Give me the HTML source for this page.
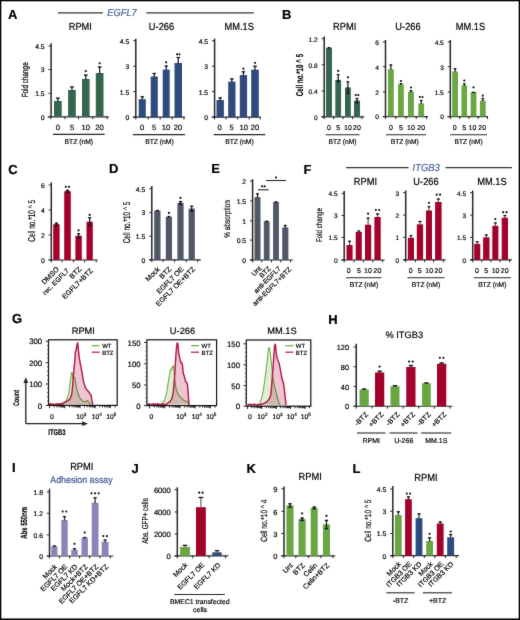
<!DOCTYPE html>
<html><head><meta charset="utf-8"><title>Figure</title>
<style>
html,body{margin:0;padding:0;background:#fff;}
body{width:520px;height:620px;overflow:hidden;font-family:"Liberation Sans", sans-serif;}
svg{display:block;position:absolute;left:0;top:0;}
text{stroke:#000;stroke-width:0.18px;text-rendering:geometricPrecision;}
</style></head><body>
<svg width="520" height="620" viewBox="0 0 520 620" font-family='"Liberation Sans", sans-serif' fill="#000">
<defs><filter id="soft" x="0" y="0" width="520" height="620" filterUnits="userSpaceOnUse" color-interpolation-filters="sRGB"><feConvolveMatrix order="3" kernelMatrix="0.25 0.5 0.25 0.5 8 0.5 0.25 0.5 0.25" divisor="11" edgeMode="duplicate"/></filter></defs>
<g filter="url(#soft)">
<rect x="0" y="0" width="520" height="620" fill="#000"/>
<rect x="1.3" y="1.3" width="517.4" height="617.2" fill="#fff"/>
<text x="8" y="19.1" font-size="13" font-weight="bold" fill="#000">A</text>
<text x="282.1" y="18.9" font-size="13" font-weight="bold" fill="#000">B</text>
<text x="8.2" y="173.5" font-size="13" font-weight="bold" fill="#000">C</text>
<text x="108.9" y="173.4" font-size="13" font-weight="bold" fill="#000">D</text>
<text x="211.2" y="173.4" font-size="13" font-weight="bold" fill="#000">E</text>
<text x="303.6" y="173.5" font-size="13" font-weight="bold" fill="#000">F</text>
<text x="12.1" y="322.7" font-size="13" font-weight="bold" fill="#000">G</text>
<text x="328.2" y="323.5" font-size="13" font-weight="bold" fill="#000">H</text>
<text x="12.1" y="472.2" font-size="13" font-weight="bold" fill="#000">I</text>
<text x="131.5" y="472.7" font-size="13" font-weight="bold" fill="#000">J</text>
<text x="246.6" y="472.7" font-size="13" font-weight="bold" fill="#000">K</text>
<text x="352.5" y="472.7" font-size="13" font-weight="bold" fill="#000">L</text>
<line x1="58" y1="12.9" x2="102.8" y2="12.9" stroke="#333" stroke-width="1.3"/>
<line x1="146.3" y1="12.9" x2="253.8" y2="12.9" stroke="#333" stroke-width="1.3"/>
<text transform="translate(107.2,16.33) scale(1,1.12)" x="0" y="0" font-size="9" text-anchor="start" font-style="italic" fill="#4a6098" style="stroke:#4a6098" textLength="29.6" lengthAdjust="spacingAndGlyphs">EGFL7</text>
<text transform="translate(80.3,29.73) scale(1,1.1)" x="0" y="0" font-size="9.3" text-anchor="middle">RPMI</text>
<line x1="51.1" y1="43.3" x2="51.1" y2="117.3" stroke="#262626" stroke-width="1.5"/>
<line x1="48.5" y1="46" x2="51.1" y2="46" stroke="#262626" stroke-width="1"/>
<text x="44.6" y="49" font-size="6.8" text-anchor="end">4.5</text>
<line x1="48.5" y1="69.5" x2="51.1" y2="69.5" stroke="#262626" stroke-width="1"/>
<text x="44.6" y="72" font-size="6.8" text-anchor="end">3</text>
<line x1="48.5" y1="93.3" x2="51.1" y2="93.3" stroke="#262626" stroke-width="1"/>
<text x="44.6" y="96" font-size="6.8" text-anchor="end">1.5</text>
<line x1="48.5" y1="116.8" x2="51.1" y2="116.8" stroke="#262626" stroke-width="1"/>
<text x="44.6" y="120" font-size="6.8" text-anchor="end">0</text>
<line x1="47.7" y1="116.8" x2="108.8" y2="116.8" stroke="#262626" stroke-width="1.2"/>
<line x1="50.8" y1="116.8" x2="50.8" y2="119.2" stroke="#262626" stroke-width="1"/>
<line x1="64.9" y1="116.8" x2="64.9" y2="119.2" stroke="#262626" stroke-width="1"/>
<line x1="78.6" y1="116.8" x2="78.6" y2="119.2" stroke="#262626" stroke-width="1"/>
<line x1="92.8" y1="116.8" x2="92.8" y2="119.2" stroke="#262626" stroke-width="1"/>
<line x1="107.2" y1="116.8" x2="107.2" y2="119.2" stroke="#262626" stroke-width="1"/>
<rect x="54" y="101" width="7.7" height="15.8" fill="#36654f"/>
<line x1="57.85" y1="101.5" x2="57.85" y2="97.7" stroke="#111" stroke-width="1.2"/>
<line x1="56" y1="98.2" x2="59.7" y2="98.2" stroke="#111" stroke-width="1.3"/>
<rect x="68.1" y="90" width="7.7" height="26.8" fill="#36654f"/>
<line x1="71.95" y1="90.5" x2="71.95" y2="86.5" stroke="#111" stroke-width="1.2"/>
<line x1="70.1" y1="87" x2="73.8" y2="87" stroke="#111" stroke-width="1.3"/>
<rect x="82" y="79" width="7.6" height="37.8" fill="#36654f"/>
<line x1="85.8" y1="79.5" x2="85.8" y2="74.6" stroke="#111" stroke-width="1.2"/>
<line x1="83.98" y1="75.1" x2="87.62" y2="75.1" stroke="#111" stroke-width="1.3"/>
<circle cx="85.8" cy="71.1" r="1.1" fill="#111"/>
<rect x="95.8" y="73" width="7.7" height="43.8" fill="#36654f"/>
<line x1="99.65" y1="73.5" x2="99.65" y2="66.5" stroke="#111" stroke-width="1.2"/>
<line x1="97.8" y1="67" x2="101.5" y2="67" stroke="#111" stroke-width="1.3"/>
<circle cx="99.65" cy="63.3" r="1.1" fill="#111"/>
<text x="57.9" y="130" font-size="7.6" text-anchor="middle">0</text>
<text x="72" y="130" font-size="7.6" text-anchor="middle">5</text>
<text x="85.8" y="130" font-size="7.6" text-anchor="middle">10</text>
<text x="99.6" y="130" font-size="7.6" text-anchor="middle">20</text>
<line x1="53" y1="134.4" x2="104.6" y2="134.4" stroke="#262626" stroke-width="1.1"/>
<text x="78.8" y="144" font-size="7" text-anchor="middle" textLength="28.5" lengthAdjust="spacingAndGlyphs">BTZ (nM)</text>
<text transform="translate(28.02,79.8) rotate(-90)" x="0" y="0" font-size="8.82" font-weight="normal" style="stroke-width:0.25px" text-anchor="middle" textLength="35" lengthAdjust="spacingAndGlyphs">Fold change</text>
<text transform="translate(161.5,30.33) scale(1,1.1)" x="0" y="0" font-size="9.3" text-anchor="middle">U-266</text>
<line x1="135.8" y1="38.7" x2="135.8" y2="117.7" stroke="#262626" stroke-width="1.5"/>
<line x1="133.2" y1="40.7" x2="135.8" y2="40.7" stroke="#262626" stroke-width="1"/>
<text x="129.3" y="44" font-size="6.8" text-anchor="end">4.5</text>
<line x1="133.2" y1="66.2" x2="135.8" y2="66.2" stroke="#262626" stroke-width="1"/>
<text x="129.3" y="69" font-size="6.8" text-anchor="end">3</text>
<line x1="133.2" y1="91.6" x2="135.8" y2="91.6" stroke="#262626" stroke-width="1"/>
<text x="129.3" y="95" font-size="6.8" text-anchor="end">1.5</text>
<line x1="133.2" y1="117.2" x2="135.8" y2="117.2" stroke="#262626" stroke-width="1"/>
<text x="129.3" y="120" font-size="6.8" text-anchor="end">0</text>
<line x1="133" y1="117.2" x2="185" y2="117.2" stroke="#262626" stroke-width="1.2"/>
<line x1="135.8" y1="117.2" x2="135.8" y2="119.6" stroke="#262626" stroke-width="1"/>
<line x1="148.2" y1="117.2" x2="148.2" y2="119.6" stroke="#262626" stroke-width="1"/>
<line x1="160.2" y1="117.2" x2="160.2" y2="119.6" stroke="#262626" stroke-width="1"/>
<line x1="172.2" y1="117.2" x2="172.2" y2="119.6" stroke="#262626" stroke-width="1"/>
<line x1="184" y1="117.2" x2="184" y2="119.6" stroke="#262626" stroke-width="1"/>
<rect x="138.7" y="99.2" width="7.1" height="18" fill="#2f4a7c"/>
<line x1="142.25" y1="99.7" x2="142.25" y2="96.3" stroke="#111" stroke-width="1.2"/>
<line x1="140.55" y1="96.8" x2="143.95" y2="96.8" stroke="#111" stroke-width="1.3"/>
<rect x="150.7" y="76.5" width="7.1" height="40.7" fill="#2f4a7c"/>
<line x1="154.25" y1="77" x2="154.25" y2="73" stroke="#111" stroke-width="1.2"/>
<line x1="152.55" y1="73.5" x2="155.95" y2="73.5" stroke="#111" stroke-width="1.3"/>
<rect x="162.7" y="69.7" width="7" height="47.5" fill="#2f4a7c"/>
<line x1="166.2" y1="70.2" x2="166.2" y2="65.5" stroke="#111" stroke-width="1.2"/>
<line x1="164.52" y1="66" x2="167.88" y2="66" stroke="#111" stroke-width="1.3"/>
<circle cx="166.2" cy="62.3" r="1.1" fill="#111"/>
<rect x="174.5" y="63" width="7.5" height="54.2" fill="#2f4a7c"/>
<line x1="178.25" y1="63.5" x2="178.25" y2="57" stroke="#111" stroke-width="1.2"/>
<line x1="176.45" y1="57.5" x2="180.05" y2="57.5" stroke="#111" stroke-width="1.3"/>
<circle cx="177.05" cy="54.3" r="1.1" fill="#111"/>
<circle cx="179.45" cy="54.3" r="1.1" fill="#111"/>
<text x="142" y="130" font-size="7.6" text-anchor="middle">0</text>
<text x="154" y="130" font-size="7.6" text-anchor="middle">5</text>
<text x="166" y="130" font-size="7.6" text-anchor="middle">10</text>
<text x="178" y="130" font-size="7.6" text-anchor="middle">20</text>
<line x1="133" y1="134.6" x2="185" y2="134.6" stroke="#262626" stroke-width="1.1"/>
<text x="159.4" y="144" font-size="7" text-anchor="middle" textLength="28.5" lengthAdjust="spacingAndGlyphs">BTZ (nM)</text>
<text transform="translate(239.2,30.33) scale(1,1.1)" x="0" y="0" font-size="9.3" text-anchor="middle">MM.1S</text>
<line x1="214.6" y1="38.7" x2="214.6" y2="117.7" stroke="#262626" stroke-width="1.5"/>
<line x1="212" y1="40.7" x2="214.6" y2="40.7" stroke="#262626" stroke-width="1"/>
<text x="208.1" y="44" font-size="6.8" text-anchor="end">4.5</text>
<line x1="212" y1="66.2" x2="214.6" y2="66.2" stroke="#262626" stroke-width="1"/>
<text x="208.1" y="69" font-size="6.8" text-anchor="end">3</text>
<line x1="212" y1="91.6" x2="214.6" y2="91.6" stroke="#262626" stroke-width="1"/>
<text x="208.1" y="95" font-size="6.8" text-anchor="end">1.5</text>
<line x1="212" y1="117.2" x2="214.6" y2="117.2" stroke="#262626" stroke-width="1"/>
<text x="208.1" y="120" font-size="6.8" text-anchor="end">0</text>
<line x1="211.8" y1="117.2" x2="260.7" y2="117.2" stroke="#262626" stroke-width="1.2"/>
<line x1="214.6" y1="117.2" x2="214.6" y2="119.6" stroke="#262626" stroke-width="1"/>
<line x1="226" y1="117.2" x2="226" y2="119.6" stroke="#262626" stroke-width="1"/>
<line x1="237.6" y1="117.2" x2="237.6" y2="119.6" stroke="#262626" stroke-width="1"/>
<line x1="249.2" y1="117.2" x2="249.2" y2="119.6" stroke="#262626" stroke-width="1"/>
<line x1="260.2" y1="117.2" x2="260.2" y2="119.6" stroke="#262626" stroke-width="1"/>
<rect x="216.5" y="100.1" width="7.4" height="17.1" fill="#2f4a7c"/>
<line x1="220.2" y1="100.6" x2="220.2" y2="97.4" stroke="#111" stroke-width="1.2"/>
<line x1="218.42" y1="97.9" x2="221.98" y2="97.9" stroke="#111" stroke-width="1.3"/>
<rect x="228.2" y="81.7" width="7.3" height="35.5" fill="#2f4a7c"/>
<line x1="231.85" y1="82.2" x2="231.85" y2="78.4" stroke="#111" stroke-width="1.2"/>
<line x1="230.1" y1="78.9" x2="233.6" y2="78.9" stroke="#111" stroke-width="1.3"/>
<rect x="239.8" y="75.1" width="7.3" height="42.1" fill="#2f4a7c"/>
<line x1="243.45" y1="75.6" x2="243.45" y2="71.3" stroke="#111" stroke-width="1.2"/>
<line x1="241.7" y1="71.8" x2="245.2" y2="71.8" stroke="#111" stroke-width="1.3"/>
<circle cx="243.45" cy="68.7" r="1.1" fill="#111"/>
<rect x="251.2" y="69.7" width="7.6" height="47.5" fill="#2f4a7c"/>
<line x1="255" y1="70.2" x2="255" y2="65.8" stroke="#111" stroke-width="1.2"/>
<line x1="253.18" y1="66.3" x2="256.82" y2="66.3" stroke="#111" stroke-width="1.3"/>
<circle cx="255" cy="62.8" r="1.1" fill="#111"/>
<text x="219.6" y="130" font-size="7.6" text-anchor="middle">0</text>
<text x="231.6" y="130" font-size="7.6" text-anchor="middle">5</text>
<text x="243.7" y="130" font-size="7.6" text-anchor="middle">10</text>
<text x="255" y="130" font-size="7.6" text-anchor="middle">20</text>
<line x1="213.6" y1="134.6" x2="265.2" y2="134.6" stroke="#262626" stroke-width="1.1"/>
<text x="239.4" y="144" font-size="7" text-anchor="middle" textLength="28.5" lengthAdjust="spacingAndGlyphs">BTZ (nM)</text>
<text transform="translate(344.7,29.73) scale(1,1.1)" x="0" y="0" font-size="9.3" text-anchor="middle">RPMI</text>
<line x1="324.2" y1="36.5" x2="324.2" y2="117.3" stroke="#262626" stroke-width="1.5"/>
<line x1="321.6" y1="38.7" x2="324.2" y2="38.7" stroke="#262626" stroke-width="1"/>
<text x="317.7" y="42" font-size="6.6" text-anchor="end">1.2</text>
<line x1="321.6" y1="64.8" x2="324.2" y2="64.8" stroke="#262626" stroke-width="1"/>
<text x="317.7" y="68" font-size="6.6" text-anchor="end">0.8</text>
<line x1="321.6" y1="91" x2="324.2" y2="91" stroke="#262626" stroke-width="1"/>
<text x="317.7" y="94" font-size="6.6" text-anchor="end">0.4</text>
<line x1="321.6" y1="116.8" x2="324.2" y2="116.8" stroke="#262626" stroke-width="1"/>
<text x="317.7" y="120" font-size="6.6" text-anchor="end">0</text>
<line x1="321.5" y1="116.8" x2="364.3" y2="116.8" stroke="#262626" stroke-width="1.2"/>
<line x1="324.2" y1="116.8" x2="324.2" y2="119.2" stroke="#262626" stroke-width="1"/>
<line x1="333.7" y1="116.8" x2="333.7" y2="119.2" stroke="#262626" stroke-width="1"/>
<line x1="343.1" y1="116.8" x2="343.1" y2="119.2" stroke="#262626" stroke-width="1"/>
<line x1="352.6" y1="116.8" x2="352.6" y2="119.2" stroke="#262626" stroke-width="1"/>
<line x1="361.8" y1="116.8" x2="361.8" y2="119.2" stroke="#262626" stroke-width="1"/>
<rect x="326" y="47.8" width="6" height="69" fill="#36654f"/>
<line x1="329" y1="48.3" x2="329" y2="47.2" stroke="#111" stroke-width="1.2"/>
<line x1="327.56" y1="47.7" x2="330.44" y2="47.7" stroke="#111" stroke-width="1.3"/>
<rect x="335.3" y="79.9" width="5.8" height="36.9" fill="#36654f"/>
<line x1="338.2" y1="80.4" x2="338.2" y2="74.1" stroke="#111" stroke-width="1.2"/>
<line x1="336.81" y1="74.6" x2="339.59" y2="74.6" stroke="#111" stroke-width="1.3"/>
<line x1="338.2" y1="79.9" x2="338.2" y2="81.8" stroke="#111" stroke-width="1.2"/>
<line x1="336.81" y1="81.5" x2="339.59" y2="81.5" stroke="#111" stroke-width="1.3"/>
<circle cx="338.2" cy="70.9" r="1.1" fill="#111"/>
<rect x="345" y="87.5" width="5.8" height="29.3" fill="#36654f"/>
<line x1="347.9" y1="88" x2="347.9" y2="81.3" stroke="#111" stroke-width="1.2"/>
<line x1="346.51" y1="81.8" x2="349.29" y2="81.8" stroke="#111" stroke-width="1.3"/>
<line x1="347.9" y1="87.5" x2="347.9" y2="93.7" stroke="#111" stroke-width="1.2"/>
<line x1="346.51" y1="93.4" x2="349.29" y2="93.4" stroke="#111" stroke-width="1.3"/>
<circle cx="347.9" cy="77.3" r="1.1" fill="#111"/>
<rect x="354" y="100.6" width="6" height="16.2" fill="#36654f"/>
<line x1="357" y1="101.1" x2="357" y2="98" stroke="#111" stroke-width="1.2"/>
<line x1="355.56" y1="98.5" x2="358.44" y2="98.5" stroke="#111" stroke-width="1.3"/>
<line x1="357" y1="100.6" x2="357" y2="103.2" stroke="#111" stroke-width="1.2"/>
<line x1="355.56" y1="102.9" x2="358.44" y2="102.9" stroke="#111" stroke-width="1.3"/>
<circle cx="355.7" cy="95.1" r="1.1" fill="#111"/>
<circle cx="358.3" cy="95.1" r="1.1" fill="#111"/>
<text x="328.9" y="130" font-size="7" text-anchor="middle">0</text>
<text x="338.2" y="130" font-size="7" text-anchor="middle">5</text>
<text x="347.9" y="130" font-size="7" text-anchor="middle" textLength="7.8" lengthAdjust="spacingAndGlyphs">10</text>
<text x="357" y="130" font-size="7" text-anchor="middle" textLength="7.8" lengthAdjust="spacingAndGlyphs">20</text>
<line x1="325.6" y1="134.8" x2="359.5" y2="134.8" stroke="#262626" stroke-width="1.1"/>
<text x="342.5" y="144" font-size="7" text-anchor="middle" textLength="28" lengthAdjust="spacingAndGlyphs">BTZ (nM)</text>
<text transform="translate(302.5,75.1) rotate(-90)" x="0" y="0" font-size="9.87" font-weight="600" text-anchor="middle" textLength="42.4" lengthAdjust="spacingAndGlyphs">Cell no.*10 ^ 5</text>
<text transform="translate(408,29.83) scale(1,1.1)" x="0" y="0" font-size="9.3" text-anchor="middle">U-266</text>
<line x1="385.5" y1="40" x2="385.5" y2="117.1" stroke="#262626" stroke-width="1.5"/>
<line x1="382.9" y1="42" x2="385.5" y2="42" stroke="#262626" stroke-width="1"/>
<text x="379" y="45" font-size="6.6" text-anchor="end">6</text>
<line x1="382.9" y1="66.7" x2="385.5" y2="66.7" stroke="#262626" stroke-width="1"/>
<text x="379" y="70" font-size="6.6" text-anchor="end">4</text>
<line x1="382.9" y1="91.9" x2="385.5" y2="91.9" stroke="#262626" stroke-width="1"/>
<text x="379" y="95" font-size="6.6" text-anchor="end">2</text>
<line x1="382.9" y1="116.6" x2="385.5" y2="116.6" stroke="#262626" stroke-width="1"/>
<text x="379" y="119" font-size="6.6" text-anchor="end">0</text>
<line x1="382.8" y1="116.6" x2="428" y2="116.6" stroke="#262626" stroke-width="1.2"/>
<line x1="385.5" y1="116.6" x2="385.5" y2="119" stroke="#262626" stroke-width="1"/>
<line x1="395.8" y1="116.6" x2="395.8" y2="119" stroke="#262626" stroke-width="1"/>
<line x1="406" y1="116.6" x2="406" y2="119" stroke="#262626" stroke-width="1"/>
<line x1="416.2" y1="116.6" x2="416.2" y2="119" stroke="#262626" stroke-width="1"/>
<line x1="426.5" y1="116.6" x2="426.5" y2="119" stroke="#262626" stroke-width="1"/>
<rect x="388" y="69.3" width="5.8" height="47.3" fill="#6aa644"/>
<line x1="390.9" y1="69.8" x2="390.9" y2="64.4" stroke="#111" stroke-width="1.2"/>
<line x1="389.51" y1="64.9" x2="392.29" y2="64.9" stroke="#111" stroke-width="1.3"/>
<rect x="398" y="84.5" width="5.8" height="32.1" fill="#6aa644"/>
<line x1="400.9" y1="85" x2="400.9" y2="83.2" stroke="#111" stroke-width="1.2"/>
<line x1="399.51" y1="83.7" x2="402.29" y2="83.7" stroke="#111" stroke-width="1.3"/>
<circle cx="400.9" cy="81" r="1.1" fill="#111"/>
<rect x="408" y="91.9" width="5.9" height="24.7" fill="#6aa644"/>
<line x1="410.95" y1="92.4" x2="410.95" y2="90.3" stroke="#111" stroke-width="1.2"/>
<line x1="409.53" y1="90.8" x2="412.37" y2="90.8" stroke="#111" stroke-width="1.3"/>
<circle cx="410.95" cy="87.5" r="1.1" fill="#111"/>
<rect x="418.3" y="103.5" width="5.8" height="13.1" fill="#6aa644"/>
<line x1="421.2" y1="104" x2="421.2" y2="100" stroke="#111" stroke-width="1.2"/>
<line x1="419.81" y1="100.5" x2="422.59" y2="100.5" stroke="#111" stroke-width="1.3"/>
<circle cx="419.9" cy="97" r="1.1" fill="#111"/>
<circle cx="422.5" cy="97" r="1.1" fill="#111"/>
<text x="390.9" y="130" font-size="7" text-anchor="middle">0</text>
<text x="401" y="130" font-size="7" text-anchor="middle">5</text>
<text x="411" y="130" font-size="7" text-anchor="middle">10</text>
<text x="421.2" y="130" font-size="7" text-anchor="middle">20</text>
<line x1="385.9" y1="134.8" x2="426" y2="134.8" stroke="#262626" stroke-width="1.1"/>
<text x="404.8" y="144" font-size="7" text-anchor="middle" textLength="28" lengthAdjust="spacingAndGlyphs">BTZ (nM)</text>
<text transform="translate(470.4,29.83) scale(1,1.1)" x="0" y="0" font-size="9.3" text-anchor="middle">MM.1S</text>
<line x1="450.3" y1="40" x2="450.3" y2="117.1" stroke="#262626" stroke-width="1.5"/>
<line x1="447.7" y1="42" x2="450.3" y2="42" stroke="#262626" stroke-width="1"/>
<text x="443.8" y="45" font-size="6.6" text-anchor="end">4.5</text>
<line x1="447.7" y1="66.7" x2="450.3" y2="66.7" stroke="#262626" stroke-width="1"/>
<text x="443.8" y="70" font-size="6.6" text-anchor="end">3</text>
<line x1="447.7" y1="91.9" x2="450.3" y2="91.9" stroke="#262626" stroke-width="1"/>
<text x="443.8" y="95" font-size="6.6" text-anchor="end">1.5</text>
<line x1="447.7" y1="116.6" x2="450.3" y2="116.6" stroke="#262626" stroke-width="1"/>
<text x="443.8" y="119" font-size="6.6" text-anchor="end">0</text>
<line x1="447.6" y1="116.6" x2="488" y2="116.6" stroke="#262626" stroke-width="1.2"/>
<line x1="450.3" y1="116.6" x2="450.3" y2="119" stroke="#262626" stroke-width="1"/>
<line x1="459.8" y1="116.6" x2="459.8" y2="119" stroke="#262626" stroke-width="1"/>
<line x1="469" y1="116.6" x2="469" y2="119" stroke="#262626" stroke-width="1"/>
<line x1="478.2" y1="116.6" x2="478.2" y2="119" stroke="#262626" stroke-width="1"/>
<line x1="487.5" y1="116.6" x2="487.5" y2="119" stroke="#262626" stroke-width="1"/>
<rect x="452.2" y="71.6" width="5.8" height="45" fill="#6aa644"/>
<line x1="455.1" y1="72.1" x2="455.1" y2="68.3" stroke="#111" stroke-width="1.2"/>
<line x1="453.71" y1="68.8" x2="456.49" y2="68.8" stroke="#111" stroke-width="1.3"/>
<rect x="461.5" y="85.5" width="5.6" height="31.1" fill="#6aa644"/>
<line x1="464.3" y1="86" x2="464.3" y2="83.4" stroke="#111" stroke-width="1.2"/>
<line x1="462.96" y1="83.9" x2="465.64" y2="83.9" stroke="#111" stroke-width="1.3"/>
<circle cx="464.3" cy="80.6" r="1.1" fill="#111"/>
<rect x="470.6" y="91.9" width="5.8" height="24.7" fill="#6aa644"/>
<line x1="472.11" y1="92.4" x2="474.89" y2="92.4" stroke="#111" stroke-width="1.3"/>
<circle cx="473.5" cy="87.3" r="1.1" fill="#111"/>
<rect x="479.9" y="100.6" width="5.8" height="16" fill="#6aa644"/>
<line x1="482.8" y1="101.1" x2="482.8" y2="98" stroke="#111" stroke-width="1.2"/>
<line x1="481.41" y1="98.5" x2="484.19" y2="98.5" stroke="#111" stroke-width="1.3"/>
<circle cx="482.8" cy="95.7" r="1.1" fill="#111"/>
<text x="454.8" y="130" font-size="7" text-anchor="middle">0</text>
<text x="464.2" y="130" font-size="7" text-anchor="middle">5</text>
<text x="472.5" y="130" font-size="7" text-anchor="middle" textLength="7.8" lengthAdjust="spacingAndGlyphs">10</text>
<text x="482.2" y="130" font-size="7" text-anchor="middle" textLength="7.8" lengthAdjust="spacingAndGlyphs">20</text>
<line x1="450.3" y1="134.8" x2="487" y2="134.8" stroke="#262626" stroke-width="1.1"/>
<text x="468.6" y="144" font-size="7" text-anchor="middle" textLength="28" lengthAdjust="spacingAndGlyphs">BTZ (nM)</text>
<line x1="51.3" y1="182.5" x2="51.3" y2="260.5" stroke="#262626" stroke-width="1.5"/>
<line x1="48.7" y1="185" x2="51.3" y2="185" stroke="#262626" stroke-width="1"/>
<text x="44.8" y="188" font-size="6.8" text-anchor="end">6</text>
<line x1="48.7" y1="210.1" x2="51.3" y2="210.1" stroke="#262626" stroke-width="1"/>
<text x="44.8" y="213" font-size="6.8" text-anchor="end">4</text>
<line x1="48.7" y1="234.9" x2="51.3" y2="234.9" stroke="#262626" stroke-width="1"/>
<text x="44.8" y="238" font-size="6.8" text-anchor="end">2</text>
<line x1="48.7" y1="260" x2="51.3" y2="260" stroke="#262626" stroke-width="1"/>
<text x="44.8" y="263" font-size="6.8" text-anchor="end">0</text>
<line x1="48.6" y1="260" x2="97.7" y2="260" stroke="#262626" stroke-width="1.2"/>
<line x1="51.3" y1="260" x2="51.3" y2="262.4" stroke="#262626" stroke-width="1"/>
<line x1="62" y1="260" x2="62" y2="262.4" stroke="#262626" stroke-width="1"/>
<line x1="73.4" y1="260" x2="73.4" y2="262.4" stroke="#262626" stroke-width="1"/>
<line x1="84.6" y1="260" x2="84.6" y2="262.4" stroke="#262626" stroke-width="1"/>
<line x1="96.2" y1="260" x2="96.2" y2="262.4" stroke="#262626" stroke-width="1"/>
<rect x="53.2" y="224.2" width="6.4" height="35.8" fill="#a3002b"/>
<line x1="56.4" y1="224.7" x2="56.4" y2="222.7" stroke="#111" stroke-width="1.2"/>
<line x1="54.86" y1="223.2" x2="57.94" y2="223.2" stroke="#111" stroke-width="1.3"/>
<line x1="56.4" y1="224.2" x2="56.4" y2="225.7" stroke="#111" stroke-width="1.2"/>
<line x1="54.86" y1="225.4" x2="57.94" y2="225.4" stroke="#111" stroke-width="1.3"/>
<rect x="64.2" y="191.2" width="6.6" height="68.8" fill="#a3002b"/>
<line x1="67.5" y1="191.7" x2="67.5" y2="189.8" stroke="#111" stroke-width="1.2"/>
<line x1="65.92" y1="190.3" x2="69.08" y2="190.3" stroke="#111" stroke-width="1.3"/>
<line x1="67.5" y1="191.2" x2="67.5" y2="192.6" stroke="#111" stroke-width="1.2"/>
<line x1="65.92" y1="192.3" x2="69.08" y2="192.3" stroke="#111" stroke-width="1.3"/>
<circle cx="65.9" cy="186.8" r="1.1" fill="#111"/>
<circle cx="69.1" cy="186.8" r="1.1" fill="#111"/>
<rect x="75.4" y="235.8" width="6.4" height="24.2" fill="#a3002b"/>
<line x1="78.6" y1="236.3" x2="78.6" y2="233.3" stroke="#111" stroke-width="1.2"/>
<line x1="77.06" y1="233.8" x2="80.14" y2="233.8" stroke="#111" stroke-width="1.3"/>
<line x1="78.6" y1="235.8" x2="78.6" y2="238.3" stroke="#111" stroke-width="1.2"/>
<line x1="77.06" y1="238" x2="80.14" y2="238" stroke="#111" stroke-width="1.3"/>
<circle cx="78.6" cy="230.3" r="1.1" fill="#111"/>
<rect x="86.5" y="221.7" width="6.3" height="38.3" fill="#a3002b"/>
<line x1="89.65" y1="222.2" x2="89.65" y2="217.3" stroke="#111" stroke-width="1.2"/>
<line x1="88.14" y1="217.8" x2="91.16" y2="217.8" stroke="#111" stroke-width="1.3"/>
<line x1="89.65" y1="221.7" x2="89.65" y2="226.1" stroke="#111" stroke-width="1.2"/>
<line x1="88.14" y1="225.8" x2="91.16" y2="225.8" stroke="#111" stroke-width="1.3"/>
<circle cx="89.65" cy="214.9" r="1.1" fill="#111"/>
<text transform="translate(34.6,220.8) rotate(-90)" x="0" y="0" font-size="9.87" font-weight="normal" text-anchor="middle" textLength="41.7" lengthAdjust="spacingAndGlyphs">Cell no.*10 ^ 5</text>
<text transform="translate(59.5,269.7) rotate(-45)" x="0" y="0" font-size="7.1" text-anchor="end">DMSO</text>
<text transform="translate(69.5,271.2) rotate(-45)" x="0" y="0" font-size="6.7" text-anchor="end">rec. EGFL7</text>
<text transform="translate(81.8,269.7) rotate(-45)" x="0" y="0" font-size="7.1" text-anchor="end">BTZ</text>
<text transform="translate(93.3,271.2) rotate(-45)" x="0" y="0" font-size="7.1" text-anchor="end">EGFL7+BTZ</text>
<line x1="151.8" y1="186" x2="151.8" y2="260.3" stroke="#262626" stroke-width="1.5"/>
<line x1="149.2" y1="188.8" x2="151.8" y2="188.8" stroke="#262626" stroke-width="1"/>
<text x="145.3" y="192" font-size="6.8" text-anchor="end">4.5</text>
<line x1="149.2" y1="212.4" x2="151.8" y2="212.4" stroke="#262626" stroke-width="1"/>
<text x="145.3" y="215" font-size="6.8" text-anchor="end">3</text>
<line x1="149.2" y1="236.2" x2="151.8" y2="236.2" stroke="#262626" stroke-width="1"/>
<text x="145.3" y="239" font-size="6.8" text-anchor="end">1.5</text>
<line x1="149.2" y1="259.8" x2="151.8" y2="259.8" stroke="#262626" stroke-width="1"/>
<text x="145.3" y="263" font-size="6.8" text-anchor="end">0</text>
<line x1="149.1" y1="259.8" x2="200.8" y2="259.8" stroke="#262626" stroke-width="1.2"/>
<line x1="151.8" y1="259.8" x2="151.8" y2="262.2" stroke="#262626" stroke-width="1"/>
<line x1="163" y1="259.8" x2="163" y2="262.2" stroke="#262626" stroke-width="1"/>
<line x1="174.6" y1="259.8" x2="174.6" y2="262.2" stroke="#262626" stroke-width="1"/>
<line x1="186.2" y1="259.8" x2="186.2" y2="262.2" stroke="#262626" stroke-width="1"/>
<line x1="197.7" y1="259.8" x2="197.7" y2="262.2" stroke="#262626" stroke-width="1"/>
<rect x="154.2" y="210.7" width="6.3" height="49.1" fill="#505767"/>
<line x1="157.35" y1="211.2" x2="157.35" y2="210" stroke="#111" stroke-width="1.2"/>
<line x1="155.84" y1="210.5" x2="158.86" y2="210.5" stroke="#111" stroke-width="1.3"/>
<rect x="165.8" y="216.9" width="6.2" height="42.9" fill="#505767"/>
<line x1="168.9" y1="217.4" x2="168.9" y2="216" stroke="#111" stroke-width="1.2"/>
<line x1="167.41" y1="216.5" x2="170.39" y2="216.5" stroke="#111" stroke-width="1.3"/>
<circle cx="168.9" cy="212.9" r="1.1" fill="#111"/>
<rect x="177.4" y="202.8" width="6.2" height="57" fill="#505767"/>
<line x1="180.5" y1="203.3" x2="180.5" y2="201" stroke="#111" stroke-width="1.2"/>
<line x1="179.01" y1="201.5" x2="181.99" y2="201.5" stroke="#111" stroke-width="1.3"/>
<line x1="180.5" y1="202.8" x2="180.5" y2="204.6" stroke="#111" stroke-width="1.2"/>
<line x1="179.01" y1="204.3" x2="181.99" y2="204.3" stroke="#111" stroke-width="1.3"/>
<circle cx="180.5" cy="197.9" r="1.1" fill="#111"/>
<rect x="188.6" y="208.6" width="6.2" height="51.2" fill="#505767"/>
<line x1="191.7" y1="209.1" x2="191.7" y2="205.7" stroke="#111" stroke-width="1.2"/>
<line x1="190.21" y1="206.2" x2="193.19" y2="206.2" stroke="#111" stroke-width="1.3"/>
<line x1="191.7" y1="208.6" x2="191.7" y2="211.5" stroke="#111" stroke-width="1.2"/>
<line x1="190.21" y1="211.2" x2="193.19" y2="211.2" stroke="#111" stroke-width="1.3"/>
<text transform="translate(129.6,222.5) rotate(-90)" x="0" y="0" font-size="9.87" font-weight="normal" text-anchor="middle" textLength="41.7" lengthAdjust="spacingAndGlyphs">Cell no.*10 ^ 5</text>
<text transform="translate(160.2,269.7) rotate(-45)" x="0" y="0" font-size="7.1" text-anchor="end">Mock</text>
<text transform="translate(171.8,269.7) rotate(-45)" x="0" y="0" font-size="7.1" text-anchor="end">BTZ</text>
<text transform="translate(184,269.7) rotate(-45)" x="0" y="0" font-size="7.1" text-anchor="end">EGFL7 OE</text>
<text transform="translate(195.6,269.7) rotate(-45)" x="0" y="0" font-size="7.1" text-anchor="end">EGFL7 OE+BTZ</text>
<line x1="252.6" y1="179.2" x2="252.6" y2="260.5" stroke="#262626" stroke-width="1.5"/>
<line x1="250" y1="181.1" x2="252.6" y2="181.1" stroke="#262626" stroke-width="1"/>
<text x="246.1" y="184" font-size="6.8" text-anchor="end">2</text>
<line x1="250" y1="201" x2="252.6" y2="201" stroke="#262626" stroke-width="1"/>
<text x="246.1" y="204" font-size="6.8" text-anchor="end">1.5</text>
<line x1="250" y1="220.8" x2="252.6" y2="220.8" stroke="#262626" stroke-width="1"/>
<text x="246.1" y="224" font-size="6.8" text-anchor="end">1</text>
<line x1="250" y1="240.1" x2="252.6" y2="240.1" stroke="#262626" stroke-width="1"/>
<text x="246.1" y="243" font-size="6.8" text-anchor="end">0.5</text>
<line x1="250" y1="260" x2="252.6" y2="260" stroke="#262626" stroke-width="1"/>
<text x="246.1" y="263" font-size="6.8" text-anchor="end">0</text>
<line x1="249.9" y1="260" x2="292.8" y2="260" stroke="#262626" stroke-width="1.2"/>
<line x1="252.6" y1="260" x2="252.6" y2="262.4" stroke="#262626" stroke-width="1"/>
<line x1="261.8" y1="260" x2="261.8" y2="262.4" stroke="#262626" stroke-width="1"/>
<line x1="271.5" y1="260" x2="271.5" y2="262.4" stroke="#262626" stroke-width="1"/>
<line x1="280.8" y1="260" x2="280.8" y2="262.4" stroke="#262626" stroke-width="1"/>
<line x1="290.5" y1="260" x2="290.5" y2="262.4" stroke="#262626" stroke-width="1"/>
<rect x="254.5" y="197.2" width="6" height="62.8" fill="#505767"/>
<line x1="257.5" y1="197.7" x2="257.5" y2="193.3" stroke="#111" stroke-width="1.2"/>
<line x1="256.06" y1="193.8" x2="258.94" y2="193.8" stroke="#111" stroke-width="1.3"/>
<rect x="263.8" y="221.3" width="5.8" height="38.7" fill="#505767"/>
<line x1="266.7" y1="221.8" x2="266.7" y2="220.8" stroke="#111" stroke-width="1.2"/>
<line x1="265.31" y1="221.3" x2="268.09" y2="221.3" stroke="#111" stroke-width="1.3"/>
<rect x="273.1" y="202" width="5.8" height="58" fill="#505767"/>
<line x1="276" y1="202.5" x2="276" y2="201.5" stroke="#111" stroke-width="1.2"/>
<line x1="274.61" y1="202" x2="277.39" y2="202" stroke="#111" stroke-width="1.3"/>
<rect x="282.2" y="227.5" width="6.2" height="32.5" fill="#505767"/>
<line x1="285.3" y1="228" x2="285.3" y2="225" stroke="#111" stroke-width="1.2"/>
<line x1="283.81" y1="225.5" x2="286.79" y2="225.5" stroke="#111" stroke-width="1.3"/>
<line x1="258" y1="189.8" x2="268.7" y2="189.8" stroke="#262626" stroke-width="1.1"/>
<circle cx="262.1" cy="186.3" r="1.1" fill="#111"/>
<circle cx="264.7" cy="186.3" r="1.1" fill="#111"/>
<line x1="266.2" y1="180.5" x2="286" y2="180.5" stroke="#262626" stroke-width="1.1"/>
<circle cx="276" cy="177.5" r="1.1" fill="#111"/>
<text transform="translate(230.46,218.9) rotate(-90)" x="0" y="0" font-size="8.61" font-weight="normal" text-anchor="middle" textLength="37.5" lengthAdjust="spacingAndGlyphs">% absorption</text>
<text transform="translate(261.8,269.1) rotate(-45)" x="0" y="0" font-size="6.8" text-anchor="end">Unt</text>
<text transform="translate(271.1,269.1) rotate(-45)" x="0" y="0" font-size="6.8" text-anchor="end">BTZ</text>
<text transform="translate(281.1,269.1) rotate(-45)" x="0" y="0" font-size="6.8" text-anchor="end">anti-EGFL7</text>
<text transform="translate(291.8,269.8) rotate(-45)" x="0" y="0" font-size="6.8" text-anchor="end">anti-EGFL7+BTZ</text>
<line x1="346.1" y1="167.6" x2="408.6" y2="167.6" stroke="#333" stroke-width="1.3"/>
<line x1="445.6" y1="167.6" x2="511.9" y2="167.6" stroke="#333" stroke-width="1.3"/>
<text transform="translate(412.6,170.93) scale(1,1.12)" x="0" y="0" font-size="9" text-anchor="start" font-style="italic" fill="#4a6098" style="stroke:#4a6098" textLength="27.2" lengthAdjust="spacingAndGlyphs">ITGB3</text>
<text transform="translate(365.4,184.53) scale(1,1.1)" x="0" y="0" font-size="9.3" text-anchor="middle">RPMI</text>
<line x1="344.2" y1="191" x2="344.2" y2="260.5" stroke="#262626" stroke-width="1.5"/>
<line x1="341.6" y1="193.4" x2="344.2" y2="193.4" stroke="#262626" stroke-width="1"/>
<text x="337.7" y="196" font-size="6.6" text-anchor="end">4.5</text>
<line x1="341.6" y1="215.5" x2="344.2" y2="215.5" stroke="#262626" stroke-width="1"/>
<text x="337.7" y="218" font-size="6.6" text-anchor="end">3</text>
<line x1="341.6" y1="237.4" x2="344.2" y2="237.4" stroke="#262626" stroke-width="1"/>
<text x="337.7" y="240" font-size="6.6" text-anchor="end">1.5</text>
<line x1="341.6" y1="260" x2="344.2" y2="260" stroke="#262626" stroke-width="1"/>
<text x="337.7" y="263" font-size="6.6" text-anchor="end">0</text>
<line x1="341.5" y1="260" x2="384.7" y2="260" stroke="#262626" stroke-width="1.2"/>
<line x1="344.2" y1="260" x2="344.2" y2="262.4" stroke="#262626" stroke-width="1"/>
<line x1="354.1" y1="260" x2="354.1" y2="262.4" stroke="#262626" stroke-width="1"/>
<line x1="363.4" y1="260" x2="363.4" y2="262.4" stroke="#262626" stroke-width="1"/>
<line x1="372.8" y1="260" x2="372.8" y2="262.4" stroke="#262626" stroke-width="1"/>
<line x1="382.6" y1="260" x2="382.6" y2="262.4" stroke="#262626" stroke-width="1"/>
<rect x="346.5" y="245" width="6.1" height="15" fill="#a3002b"/>
<line x1="349.55" y1="245.5" x2="349.55" y2="240.8" stroke="#555" stroke-width="1.2"/>
<line x1="348.09" y1="241.3" x2="351.01" y2="241.3" stroke="#111" stroke-width="1.3"/>
<rect x="355.7" y="231.9" width="6.1" height="28.1" fill="#a3002b"/>
<line x1="358.75" y1="232.4" x2="358.75" y2="230.5" stroke="#555" stroke-width="1.2"/>
<line x1="357.29" y1="231" x2="360.21" y2="231" stroke="#111" stroke-width="1.3"/>
<rect x="365" y="224.7" width="6.2" height="35.3" fill="#a3002b"/>
<line x1="368.1" y1="225.2" x2="368.1" y2="217.7" stroke="#555" stroke-width="1.2"/>
<line x1="366.61" y1="218.2" x2="369.59" y2="218.2" stroke="#111" stroke-width="1.3"/>
<circle cx="368.1" cy="213.7" r="1.1" fill="#111"/>
<rect x="374.4" y="217" width="6.3" height="43" fill="#a3002b"/>
<line x1="377.55" y1="217.5" x2="377.55" y2="213.4" stroke="#555" stroke-width="1.2"/>
<line x1="376.04" y1="213.9" x2="379.06" y2="213.9" stroke="#111" stroke-width="1.3"/>
<circle cx="375.85" cy="210" r="1.1" fill="#111"/>
<circle cx="379.25" cy="210" r="1.1" fill="#111"/>
<text x="348.7" y="273" font-size="7" text-anchor="middle">0</text>
<text x="359" y="273" font-size="7" text-anchor="middle">5</text>
<text x="367.9" y="273" font-size="7" text-anchor="middle" textLength="7.8" lengthAdjust="spacingAndGlyphs">10</text>
<text x="377.5" y="273" font-size="7" text-anchor="middle" textLength="7.8" lengthAdjust="spacingAndGlyphs">20</text>
<line x1="346.1" y1="277.8" x2="381.4" y2="277.8" stroke="#262626" stroke-width="1.1"/>
<text x="364" y="287" font-size="7" text-anchor="middle" textLength="28.3" lengthAdjust="spacingAndGlyphs">BTZ (nM)</text>
<text transform="translate(322.2,225) rotate(-90)" x="0" y="0" font-size="8.4" font-weight="normal" text-anchor="middle" textLength="34" lengthAdjust="spacingAndGlyphs">Fold change</text>
<text transform="translate(426,184.53) scale(1,1.1)" x="0" y="0" font-size="9.3" text-anchor="middle">U-266</text>
<line x1="405.7" y1="190.5" x2="405.7" y2="260.3" stroke="#262626" stroke-width="1.5"/>
<line x1="403.1" y1="192.7" x2="405.7" y2="192.7" stroke="#262626" stroke-width="1"/>
<text x="399.2" y="196" font-size="6.6" text-anchor="end">3</text>
<line x1="403.1" y1="215.1" x2="405.7" y2="215.1" stroke="#262626" stroke-width="1"/>
<text x="399.2" y="218" font-size="6.6" text-anchor="end">2</text>
<line x1="403.1" y1="237.3" x2="405.7" y2="237.3" stroke="#262626" stroke-width="1"/>
<text x="399.2" y="240" font-size="6.6" text-anchor="end">1</text>
<line x1="403.1" y1="259.8" x2="405.7" y2="259.8" stroke="#262626" stroke-width="1"/>
<text x="399.2" y="263" font-size="6.6" text-anchor="end">0</text>
<line x1="403" y1="259.8" x2="445.6" y2="259.8" stroke="#262626" stroke-width="1.2"/>
<line x1="405.7" y1="259.8" x2="405.7" y2="262.2" stroke="#262626" stroke-width="1"/>
<line x1="415.4" y1="259.8" x2="415.4" y2="262.2" stroke="#262626" stroke-width="1"/>
<line x1="424.6" y1="259.8" x2="424.6" y2="262.2" stroke="#262626" stroke-width="1"/>
<line x1="433.6" y1="259.8" x2="433.6" y2="262.2" stroke="#262626" stroke-width="1"/>
<line x1="443.4" y1="259.8" x2="443.4" y2="262.2" stroke="#262626" stroke-width="1"/>
<rect x="407.9" y="237.8" width="6.1" height="22" fill="#a3002b"/>
<line x1="410.95" y1="238.3" x2="410.95" y2="235.2" stroke="#555" stroke-width="1.2"/>
<line x1="409.49" y1="235.7" x2="412.41" y2="235.7" stroke="#111" stroke-width="1.3"/>
<rect x="416.8" y="224.3" width="6.3" height="35.5" fill="#a3002b"/>
<line x1="419.95" y1="224.8" x2="419.95" y2="221" stroke="#555" stroke-width="1.2"/>
<line x1="418.44" y1="221.5" x2="421.46" y2="221.5" stroke="#111" stroke-width="1.3"/>
<rect x="426" y="210.5" width="6" height="49.3" fill="#a3002b"/>
<line x1="429" y1="211" x2="429" y2="206.2" stroke="#555" stroke-width="1.2"/>
<line x1="427.56" y1="206.7" x2="430.44" y2="206.7" stroke="#111" stroke-width="1.3"/>
<circle cx="429" cy="202.8" r="1.1" fill="#111"/>
<rect x="435.1" y="202" width="6.5" height="57.8" fill="#a3002b"/>
<line x1="438.35" y1="202.5" x2="438.35" y2="198.6" stroke="#555" stroke-width="1.2"/>
<line x1="436.79" y1="199.1" x2="439.91" y2="199.1" stroke="#111" stroke-width="1.3"/>
<circle cx="436.65" cy="194.7" r="1.1" fill="#111"/>
<circle cx="440.05" cy="194.7" r="1.1" fill="#111"/>
<text x="410.7" y="273" font-size="7" text-anchor="middle">0</text>
<text x="419.8" y="273" font-size="7" text-anchor="middle">5</text>
<text x="429.2" y="273" font-size="7" text-anchor="middle" textLength="7.8" lengthAdjust="spacingAndGlyphs">10</text>
<text x="438.4" y="273" font-size="7" text-anchor="middle" textLength="7.8" lengthAdjust="spacingAndGlyphs">20</text>
<line x1="407.4" y1="277.8" x2="444.5" y2="277.8" stroke="#262626" stroke-width="1.1"/>
<text x="426" y="287" font-size="7" text-anchor="middle" textLength="28.3" lengthAdjust="spacingAndGlyphs">BTZ (nM)</text>
<text transform="translate(492,184.53) scale(1,1.1)" x="0" y="0" font-size="9.3" text-anchor="middle">MM.1S</text>
<line x1="472.7" y1="190.5" x2="472.7" y2="260.3" stroke="#262626" stroke-width="1.5"/>
<line x1="470.1" y1="192.7" x2="472.7" y2="192.7" stroke="#262626" stroke-width="1"/>
<text x="466.2" y="196" font-size="6.6" text-anchor="end">4.5</text>
<line x1="470.1" y1="215.1" x2="472.7" y2="215.1" stroke="#262626" stroke-width="1"/>
<text x="466.2" y="218" font-size="6.6" text-anchor="end">3</text>
<line x1="470.1" y1="237.3" x2="472.7" y2="237.3" stroke="#262626" stroke-width="1"/>
<text x="466.2" y="240" font-size="6.6" text-anchor="end">1.5</text>
<line x1="470.1" y1="259.8" x2="472.7" y2="259.8" stroke="#262626" stroke-width="1"/>
<text x="466.2" y="263" font-size="6.6" text-anchor="end">0</text>
<line x1="470" y1="259.8" x2="511.9" y2="259.8" stroke="#262626" stroke-width="1.2"/>
<line x1="472.7" y1="259.8" x2="472.7" y2="262.2" stroke="#262626" stroke-width="1"/>
<line x1="481.8" y1="259.8" x2="481.8" y2="262.2" stroke="#262626" stroke-width="1"/>
<line x1="490.9" y1="259.8" x2="490.9" y2="262.2" stroke="#262626" stroke-width="1"/>
<line x1="500" y1="259.8" x2="500" y2="262.2" stroke="#262626" stroke-width="1"/>
<line x1="509.6" y1="259.8" x2="509.6" y2="262.2" stroke="#262626" stroke-width="1"/>
<rect x="474.2" y="243.9" width="6.1" height="15.9" fill="#a3002b"/>
<line x1="477.25" y1="244.4" x2="477.25" y2="241.3" stroke="#555" stroke-width="1.2"/>
<line x1="475.79" y1="241.8" x2="478.71" y2="241.8" stroke="#111" stroke-width="1.3"/>
<rect x="483.1" y="237.3" width="6.4" height="22.5" fill="#a3002b"/>
<line x1="486.3" y1="237.8" x2="486.3" y2="234.5" stroke="#555" stroke-width="1.2"/>
<line x1="484.76" y1="235" x2="487.84" y2="235" stroke="#111" stroke-width="1.3"/>
<rect x="492.3" y="225.8" width="6.1" height="34" fill="#a3002b"/>
<line x1="495.35" y1="226.3" x2="495.35" y2="222.5" stroke="#555" stroke-width="1.2"/>
<line x1="493.89" y1="223" x2="496.81" y2="223" stroke="#111" stroke-width="1.3"/>
<circle cx="495.35" cy="219.1" r="1.1" fill="#111"/>
<rect x="501.7" y="217.7" width="6.3" height="42.1" fill="#a3002b"/>
<line x1="504.85" y1="218.2" x2="504.85" y2="215.1" stroke="#555" stroke-width="1.2"/>
<line x1="503.34" y1="215.6" x2="506.36" y2="215.6" stroke="#111" stroke-width="1.3"/>
<circle cx="503.15" cy="212.2" r="1.1" fill="#111"/>
<circle cx="506.55" cy="212.2" r="1.1" fill="#111"/>
<text x="477" y="273" font-size="7" text-anchor="middle">0</text>
<text x="486.2" y="273" font-size="7" text-anchor="middle">5</text>
<text x="495.6" y="273" font-size="7" text-anchor="middle" textLength="7.8" lengthAdjust="spacingAndGlyphs">10</text>
<text x="504.7" y="273" font-size="7" text-anchor="middle" textLength="7.8" lengthAdjust="spacingAndGlyphs">20</text>
<line x1="473.8" y1="277.8" x2="510.8" y2="277.8" stroke="#262626" stroke-width="1.1"/>
<text x="492.3" y="287" font-size="7" text-anchor="middle" textLength="28.3" lengthAdjust="spacingAndGlyphs">BTZ (nM)</text>
<polygon points="49.13,404.4 49.88,404.27 50.63,403.78 51.38,404.4 52.13,404.26 52.88,404.4 53.63,404.4 54.38,404.4 55.13,404.4 55.88,404.24 56.63,404.29 57.38,404 58.13,404.4 58.88,404.4 59.63,403.82 60.38,403.63 61.13,404.4 61.88,403.44 62.63,403.14 63.38,402.96 64.13,402.41 64.88,402.2 65.63,401.99 66.38,401.52 67.13,400.9 67.88,400.54 68.63,400.04 69.38,399.6 70.13,398.83 70.88,396.25 71.63,394.51 72.38,388.93 73.13,378.76 73.88,370.61 74.63,362.5 75.38,352.32 76.13,349.68 76.88,345.16 77.63,342.67 78.38,349.95 79.13,357.07 79.88,361.35 80.63,365.18 81.38,369.43 82.13,372.87 82.88,378.01 83.63,382.2 84.38,384.6 85.13,387.14 85.88,388.4 86.63,389.52 87.38,390.2 88.13,391.42 88.88,391.91 89.63,393.3 90.38,394.28 91.13,395.28 91.88,400.43 92.63,403.61 92.96,404.4" fill="#edc5d2" stroke="none"/>
<g style="mix-blend-mode:multiply"><polygon points="49.13,403.57 49.88,404.4 50.63,404.4 51.38,403.73 52.13,404.4 52.88,404.4 53.63,404.4 54.38,404.4 55.13,404.4 55.88,404.4 56.63,403.55 57.38,404.04 58.13,403.95 58.88,404.23 59.63,403.9 60.38,404.17 61.13,404.4 61.88,404.4 62.63,403.74 63.38,404.4 64.13,403.22 64.88,402.5 65.63,401.95 66.38,400.19 67.13,398.66 67.88,396.16 68.63,393.72 69.38,388.21 70.13,382.86 70.88,377.48 71.63,372.23 72.38,373.6 73.13,378.51 73.88,378.14 74.63,377.14 75.38,380.54 76.13,385.75 76.88,389.45 77.63,392.66 78.38,393.97 79.13,396.23 79.88,397.99 80.63,398.92 81.38,399.88 82.13,400.76 82.88,401.17 83.63,401.46 84.38,401.52 85.13,401.78 85.88,401.62 86.63,400.92 87.38,400.62 88.13,401.23 88.88,402.24 89.63,403.17 90.38,403.96 91.13,404.4 91.54,404.4" fill="#e0eed6" stroke="none"/>
<polyline points="49.13,403.57 49.88,404.4 50.63,404.4 51.38,403.73 52.13,404.4 52.88,404.4 53.63,404.4 54.38,404.4 55.13,404.4 55.88,404.4 56.63,403.55 57.38,404.04 58.13,403.95 58.88,404.23 59.63,403.9 60.38,404.17 61.13,404.4 61.88,404.4 62.63,403.74 63.38,404.4 64.13,403.22 64.88,402.5 65.63,401.95 66.38,400.19 67.13,398.66 67.88,396.16 68.63,393.72 69.38,388.21 70.13,382.86 70.88,377.48 71.63,372.23 72.38,373.6 73.13,378.51 73.88,378.14 74.63,377.14 75.38,380.54 76.13,385.75 76.88,389.45 77.63,392.66 78.38,393.97 79.13,396.23 79.88,397.99 80.63,398.92 81.38,399.88 82.13,400.76 82.88,401.17 83.63,401.46 84.38,401.52 85.13,401.78 85.88,401.62 86.63,400.92 87.38,400.62 88.13,401.23 88.88,402.24 89.63,403.17 90.38,403.96 91.13,404.4 91.54,404.4" fill="none" stroke="#6aaa40" stroke-width="1.05" stroke-linejoin="round"/></g>
<polyline points="49.13,404.4 49.88,404.27 50.63,403.78 51.38,404.4 52.13,404.26 52.88,404.4 53.63,404.4 54.38,404.4 55.13,404.4 55.88,404.24 56.63,404.29 57.38,404 58.13,404.4 58.88,404.4 59.63,403.82 60.38,403.63 61.13,404.4 61.88,403.44 62.63,403.14 63.38,402.96 64.13,402.41 64.88,402.2 65.63,401.99 66.38,401.52 67.13,400.9 67.88,400.54 68.63,400.04 69.38,399.6 70.13,398.83 70.88,396.25 71.63,394.51 72.38,388.93 73.13,378.76 73.88,370.61 74.63,362.5 75.38,352.32 76.13,349.68 76.88,345.16 77.63,342.67 78.38,349.95 79.13,357.07 79.88,361.35 80.63,365.18 81.38,369.43 82.13,372.87 82.88,378.01 83.63,382.2 84.38,384.6 85.13,387.14 85.88,388.4 86.63,389.52 87.38,390.2 88.13,391.42 88.88,391.91 89.63,393.3 90.38,394.28 91.13,395.28 91.88,400.43 92.63,403.61 92.96,404.4" fill="none" stroke="#b31a45" stroke-width="1.45" stroke-linejoin="round"/>
<rect x="48.5" y="339.8" width="68.7" height="65.6" fill="none" stroke="#111" stroke-width="1.2"/>
<line x1="45.7" y1="341.2" x2="48.5" y2="341.2" stroke="#262626" stroke-width="1"/>
<text x="42.2" y="344" font-size="7.8" text-anchor="end">300</text>
<line x1="45.7" y1="362.6" x2="48.5" y2="362.6" stroke="#262626" stroke-width="1"/>
<text x="42.2" y="366" font-size="7.8" text-anchor="end">200</text>
<line x1="45.7" y1="384" x2="48.5" y2="384" stroke="#262626" stroke-width="1"/>
<text x="42.2" y="387" font-size="7.8" text-anchor="end">100</text>
<line x1="45.7" y1="405.4" x2="48.5" y2="405.4" stroke="#262626" stroke-width="1"/>
<text x="42.2" y="409" font-size="7.8" text-anchor="end">0</text>
<line x1="47" y1="345.48" x2="48.5" y2="345.48" stroke="#333" stroke-width="0.7"/>
<line x1="47" y1="349.76" x2="48.5" y2="349.76" stroke="#333" stroke-width="0.7"/>
<line x1="47" y1="354.04" x2="48.5" y2="354.04" stroke="#333" stroke-width="0.7"/>
<line x1="47" y1="358.32" x2="48.5" y2="358.32" stroke="#333" stroke-width="0.7"/>
<line x1="47" y1="366.88" x2="48.5" y2="366.88" stroke="#333" stroke-width="0.7"/>
<line x1="47" y1="371.16" x2="48.5" y2="371.16" stroke="#333" stroke-width="0.7"/>
<line x1="47" y1="375.44" x2="48.5" y2="375.44" stroke="#333" stroke-width="0.7"/>
<line x1="47" y1="379.72" x2="48.5" y2="379.72" stroke="#333" stroke-width="0.7"/>
<line x1="47" y1="388.28" x2="48.5" y2="388.28" stroke="#333" stroke-width="0.7"/>
<line x1="47" y1="392.56" x2="48.5" y2="392.56" stroke="#333" stroke-width="0.7"/>
<line x1="47" y1="396.84" x2="48.5" y2="396.84" stroke="#333" stroke-width="0.7"/>
<line x1="47" y1="401.12" x2="48.5" y2="401.12" stroke="#333" stroke-width="0.7"/>
<text x="83.3" y="334" font-size="9.3" text-anchor="middle">RPMI</text>
<text x="51.8" y="419" font-size="6.8" text-anchor="middle">0</text>
<text x="81.2" y="419" font-size="6.8" text-anchor="middle">10<tspan font-size="4.6" dy="-2.6">3</tspan></text>
<text x="96.7" y="419" font-size="6.8" text-anchor="middle">10<tspan font-size="4.6" dy="-2.6">4</tspan></text>
<text x="111.2" y="419" font-size="6.8" text-anchor="middle">10<tspan font-size="4.6" dy="-2.6">5</tspan></text>
<line x1="49.6" y1="405.4" x2="49.6" y2="408.2" stroke="#111" stroke-width="0.9"/>
<line x1="54.18" y1="405.4" x2="54.18" y2="407.4" stroke="#111" stroke-width="0.9"/>
<line x1="56.85" y1="405.4" x2="56.85" y2="407.4" stroke="#111" stroke-width="0.9"/>
<line x1="58.75" y1="405.4" x2="58.75" y2="407.4" stroke="#111" stroke-width="0.9"/>
<line x1="60.22" y1="405.4" x2="60.22" y2="407.4" stroke="#111" stroke-width="0.9"/>
<line x1="61.43" y1="405.4" x2="61.43" y2="407.4" stroke="#111" stroke-width="0.9"/>
<line x1="62.45" y1="405.4" x2="62.45" y2="407.4" stroke="#111" stroke-width="0.9"/>
<line x1="63.33" y1="405.4" x2="63.33" y2="407.4" stroke="#111" stroke-width="0.9"/>
<line x1="64.1" y1="405.4" x2="64.1" y2="407.4" stroke="#111" stroke-width="0.9"/>
<line x1="64.8" y1="405.4" x2="64.8" y2="408.2" stroke="#111" stroke-width="0.9"/>
<line x1="69.38" y1="405.4" x2="69.38" y2="407.4" stroke="#111" stroke-width="0.9"/>
<line x1="72.05" y1="405.4" x2="72.05" y2="407.4" stroke="#111" stroke-width="0.9"/>
<line x1="73.95" y1="405.4" x2="73.95" y2="407.4" stroke="#111" stroke-width="0.9"/>
<line x1="75.42" y1="405.4" x2="75.42" y2="407.4" stroke="#111" stroke-width="0.9"/>
<line x1="76.63" y1="405.4" x2="76.63" y2="407.4" stroke="#111" stroke-width="0.9"/>
<line x1="77.65" y1="405.4" x2="77.65" y2="407.4" stroke="#111" stroke-width="0.9"/>
<line x1="78.53" y1="405.4" x2="78.53" y2="407.4" stroke="#111" stroke-width="0.9"/>
<line x1="79.3" y1="405.4" x2="79.3" y2="407.4" stroke="#111" stroke-width="0.9"/>
<line x1="80" y1="405.4" x2="80" y2="408.2" stroke="#111" stroke-width="0.9"/>
<line x1="84.58" y1="405.4" x2="84.58" y2="407.4" stroke="#111" stroke-width="0.9"/>
<line x1="87.25" y1="405.4" x2="87.25" y2="407.4" stroke="#111" stroke-width="0.9"/>
<line x1="89.15" y1="405.4" x2="89.15" y2="407.4" stroke="#111" stroke-width="0.9"/>
<line x1="90.62" y1="405.4" x2="90.62" y2="407.4" stroke="#111" stroke-width="0.9"/>
<line x1="91.83" y1="405.4" x2="91.83" y2="407.4" stroke="#111" stroke-width="0.9"/>
<line x1="92.85" y1="405.4" x2="92.85" y2="407.4" stroke="#111" stroke-width="0.9"/>
<line x1="93.73" y1="405.4" x2="93.73" y2="407.4" stroke="#111" stroke-width="0.9"/>
<line x1="94.5" y1="405.4" x2="94.5" y2="407.4" stroke="#111" stroke-width="0.9"/>
<line x1="95.2" y1="405.4" x2="95.2" y2="408.2" stroke="#111" stroke-width="0.9"/>
<line x1="99.78" y1="405.4" x2="99.78" y2="407.4" stroke="#111" stroke-width="0.9"/>
<line x1="102.45" y1="405.4" x2="102.45" y2="407.4" stroke="#111" stroke-width="0.9"/>
<line x1="104.35" y1="405.4" x2="104.35" y2="407.4" stroke="#111" stroke-width="0.9"/>
<line x1="105.82" y1="405.4" x2="105.82" y2="407.4" stroke="#111" stroke-width="0.9"/>
<line x1="107.03" y1="405.4" x2="107.03" y2="407.4" stroke="#111" stroke-width="0.9"/>
<line x1="108.05" y1="405.4" x2="108.05" y2="407.4" stroke="#111" stroke-width="0.9"/>
<line x1="108.93" y1="405.4" x2="108.93" y2="407.4" stroke="#111" stroke-width="0.9"/>
<line x1="109.7" y1="405.4" x2="109.7" y2="407.4" stroke="#111" stroke-width="0.9"/>
<line x1="110.4" y1="405.4" x2="110.4" y2="408.2" stroke="#111" stroke-width="0.9"/>
<line x1="114.98" y1="405.4" x2="114.98" y2="407.4" stroke="#111" stroke-width="0.9"/>
<line x1="91.7" y1="345.7" x2="99.7" y2="345.7" stroke="#6aaa40" stroke-width="1.2"/>
<line x1="91.7" y1="352.2" x2="99.7" y2="352.2" stroke="#b31a45" stroke-width="1.2"/>
<text x="102.2" y="348" font-size="6" text-anchor="start">WT</text>
<text x="102.2" y="355" font-size="6" text-anchor="start">BTZ</text>
<polygon points="147.13,404.6 147.88,403.94 148.63,404.6 149.38,404.04 150.13,404.17 150.88,404.6 151.63,404.6 152.38,404.6 153.13,403.73 153.88,404.17 154.63,404.47 155.38,404.09 156.13,403.97 156.88,404.56 157.63,404.05 158.38,403.77 159.13,404.58 159.88,404.6 160.63,404.6 161.38,404.59 162.13,403.85 162.88,403.97 163.63,404.37 164.38,404.36 165.13,404.6 165.88,404.48 166.63,403.79 167.38,403.57 168.13,403.03 168.88,402.46 169.63,401.59 170.38,401.08 171.13,399.99 171.88,398.65 172.63,395.51 173.38,391.02 174.13,383.44 174.88,371.6 175.63,358.89 176.38,348.71 177.13,343.05 177.88,343.37 178.63,352.94 179.38,356.08 180.13,359.87 180.88,362.68 181.63,362.5 182.38,364.82 183.13,372.22 183.88,375.3 184.63,377.08 185.38,380.61 186.13,382.49 186.88,382.62 187.63,385.69 188.38,396.74 189.13,404.6 189.54,404.6" fill="#edc5d2" stroke="none"/>
<g style="mix-blend-mode:multiply"><polygon points="147.13,404.6 147.88,404.6 148.63,404.6 149.38,403.7 150.13,404.6 150.88,404.6 151.63,403.95 152.38,404.16 153.13,404.55 153.88,403.85 154.63,404.6 155.38,404.6 156.13,404.6 156.88,404.33 157.63,404.48 158.38,404.16 159.13,404.6 159.88,404.6 160.63,404.1 161.38,404.6 162.13,403.23 162.88,402.55 163.63,401.41 164.38,400.54 165.13,398.25 165.88,396.24 166.63,393.14 167.38,388.13 168.13,382.87 168.88,378.34 169.63,373.77 170.38,369.36 171.13,369.92 171.88,368.03 172.63,366.33 173.38,365.75 174.13,372.29 174.88,380.76 175.63,385.9 176.38,390.05 177.13,392.03 177.88,393.24 178.63,394.84 179.38,396.04 180.13,396.77 180.88,397.59 181.63,398.51 182.38,398.81 183.13,399.64 183.88,400.51 184.63,401.04 185.38,400.98 186.13,401.35 186.88,401.33 187.63,402.49 188.38,403.47 189.12,404.6" fill="#e0eed6" stroke="none"/>
<polyline points="147.13,404.6 147.88,404.6 148.63,404.6 149.38,403.7 150.13,404.6 150.88,404.6 151.63,403.95 152.38,404.16 153.13,404.55 153.88,403.85 154.63,404.6 155.38,404.6 156.13,404.6 156.88,404.33 157.63,404.48 158.38,404.16 159.13,404.6 159.88,404.6 160.63,404.1 161.38,404.6 162.13,403.23 162.88,402.55 163.63,401.41 164.38,400.54 165.13,398.25 165.88,396.24 166.63,393.14 167.38,388.13 168.13,382.87 168.88,378.34 169.63,373.77 170.38,369.36 171.13,369.92 171.88,368.03 172.63,366.33 173.38,365.75 174.13,372.29 174.88,380.76 175.63,385.9 176.38,390.05 177.13,392.03 177.88,393.24 178.63,394.84 179.38,396.04 180.13,396.77 180.88,397.59 181.63,398.51 182.38,398.81 183.13,399.64 183.88,400.51 184.63,401.04 185.38,400.98 186.13,401.35 186.88,401.33 187.63,402.49 188.38,403.47 189.12,404.6" fill="none" stroke="#6aaa40" stroke-width="1.05" stroke-linejoin="round"/></g>
<polyline points="147.13,404.6 147.88,403.94 148.63,404.6 149.38,404.04 150.13,404.17 150.88,404.6 151.63,404.6 152.38,404.6 153.13,403.73 153.88,404.17 154.63,404.47 155.38,404.09 156.13,403.97 156.88,404.56 157.63,404.05 158.38,403.77 159.13,404.58 159.88,404.6 160.63,404.6 161.38,404.59 162.13,403.85 162.88,403.97 163.63,404.37 164.38,404.36 165.13,404.6 165.88,404.48 166.63,403.79 167.38,403.57 168.13,403.03 168.88,402.46 169.63,401.59 170.38,401.08 171.13,399.99 171.88,398.65 172.63,395.51 173.38,391.02 174.13,383.44 174.88,371.6 175.63,358.89 176.38,348.71 177.13,343.05 177.88,343.37 178.63,352.94 179.38,356.08 180.13,359.87 180.88,362.68 181.63,362.5 182.38,364.82 183.13,372.22 183.88,375.3 184.63,377.08 185.38,380.61 186.13,382.49 186.88,382.62 187.63,385.69 188.38,396.74 189.13,404.6 189.54,404.6" fill="none" stroke="#b31a45" stroke-width="1.45" stroke-linejoin="round"/>
<rect x="146.9" y="339.8" width="69.7" height="65.8" fill="none" stroke="#111" stroke-width="1.2"/>
<line x1="144.1" y1="342.5" x2="146.9" y2="342.5" stroke="#262626" stroke-width="1"/>
<text x="140.6" y="346" font-size="7.8" text-anchor="end">150</text>
<line x1="144.1" y1="363.8" x2="146.9" y2="363.8" stroke="#262626" stroke-width="1"/>
<text x="140.6" y="367" font-size="7.8" text-anchor="end">100</text>
<line x1="144.1" y1="385" x2="146.9" y2="385" stroke="#262626" stroke-width="1"/>
<text x="140.6" y="388" font-size="7.8" text-anchor="end">50</text>
<line x1="144.1" y1="405.6" x2="146.9" y2="405.6" stroke="#262626" stroke-width="1"/>
<text x="140.6" y="409" font-size="7.8" text-anchor="end">0</text>
<line x1="145.4" y1="346.76" x2="146.9" y2="346.76" stroke="#333" stroke-width="0.7"/>
<line x1="145.4" y1="351.02" x2="146.9" y2="351.02" stroke="#333" stroke-width="0.7"/>
<line x1="145.4" y1="355.28" x2="146.9" y2="355.28" stroke="#333" stroke-width="0.7"/>
<line x1="145.4" y1="359.54" x2="146.9" y2="359.54" stroke="#333" stroke-width="0.7"/>
<line x1="145.4" y1="368.04" x2="146.9" y2="368.04" stroke="#333" stroke-width="0.7"/>
<line x1="145.4" y1="372.28" x2="146.9" y2="372.28" stroke="#333" stroke-width="0.7"/>
<line x1="145.4" y1="376.52" x2="146.9" y2="376.52" stroke="#333" stroke-width="0.7"/>
<line x1="145.4" y1="380.76" x2="146.9" y2="380.76" stroke="#333" stroke-width="0.7"/>
<line x1="145.4" y1="389.12" x2="146.9" y2="389.12" stroke="#333" stroke-width="0.7"/>
<line x1="145.4" y1="393.24" x2="146.9" y2="393.24" stroke="#333" stroke-width="0.7"/>
<line x1="145.4" y1="397.36" x2="146.9" y2="397.36" stroke="#333" stroke-width="0.7"/>
<line x1="145.4" y1="401.48" x2="146.9" y2="401.48" stroke="#333" stroke-width="0.7"/>
<text x="182.5" y="334" font-size="9.3" text-anchor="middle">U-266</text>
<text x="151.3" y="419" font-size="6.8" text-anchor="middle">0</text>
<text x="181.2" y="419" font-size="6.8" text-anchor="middle">10<tspan font-size="4.6" dy="-2.6">3</tspan></text>
<text x="196.7" y="419" font-size="6.8" text-anchor="middle">10<tspan font-size="4.6" dy="-2.6">4</tspan></text>
<text x="211.2" y="419" font-size="6.8" text-anchor="middle">10<tspan font-size="4.6" dy="-2.6">5</tspan></text>
<line x1="149.6" y1="405.6" x2="149.6" y2="408.4" stroke="#111" stroke-width="0.9"/>
<line x1="154.18" y1="405.6" x2="154.18" y2="407.6" stroke="#111" stroke-width="0.9"/>
<line x1="156.85" y1="405.6" x2="156.85" y2="407.6" stroke="#111" stroke-width="0.9"/>
<line x1="158.75" y1="405.6" x2="158.75" y2="407.6" stroke="#111" stroke-width="0.9"/>
<line x1="160.22" y1="405.6" x2="160.22" y2="407.6" stroke="#111" stroke-width="0.9"/>
<line x1="161.43" y1="405.6" x2="161.43" y2="407.6" stroke="#111" stroke-width="0.9"/>
<line x1="162.45" y1="405.6" x2="162.45" y2="407.6" stroke="#111" stroke-width="0.9"/>
<line x1="163.33" y1="405.6" x2="163.33" y2="407.6" stroke="#111" stroke-width="0.9"/>
<line x1="164.1" y1="405.6" x2="164.1" y2="407.6" stroke="#111" stroke-width="0.9"/>
<line x1="164.8" y1="405.6" x2="164.8" y2="408.4" stroke="#111" stroke-width="0.9"/>
<line x1="169.38" y1="405.6" x2="169.38" y2="407.6" stroke="#111" stroke-width="0.9"/>
<line x1="172.05" y1="405.6" x2="172.05" y2="407.6" stroke="#111" stroke-width="0.9"/>
<line x1="173.95" y1="405.6" x2="173.95" y2="407.6" stroke="#111" stroke-width="0.9"/>
<line x1="175.42" y1="405.6" x2="175.42" y2="407.6" stroke="#111" stroke-width="0.9"/>
<line x1="176.63" y1="405.6" x2="176.63" y2="407.6" stroke="#111" stroke-width="0.9"/>
<line x1="177.65" y1="405.6" x2="177.65" y2="407.6" stroke="#111" stroke-width="0.9"/>
<line x1="178.53" y1="405.6" x2="178.53" y2="407.6" stroke="#111" stroke-width="0.9"/>
<line x1="179.3" y1="405.6" x2="179.3" y2="407.6" stroke="#111" stroke-width="0.9"/>
<line x1="180" y1="405.6" x2="180" y2="408.4" stroke="#111" stroke-width="0.9"/>
<line x1="184.58" y1="405.6" x2="184.58" y2="407.6" stroke="#111" stroke-width="0.9"/>
<line x1="187.25" y1="405.6" x2="187.25" y2="407.6" stroke="#111" stroke-width="0.9"/>
<line x1="189.15" y1="405.6" x2="189.15" y2="407.6" stroke="#111" stroke-width="0.9"/>
<line x1="190.62" y1="405.6" x2="190.62" y2="407.6" stroke="#111" stroke-width="0.9"/>
<line x1="191.83" y1="405.6" x2="191.83" y2="407.6" stroke="#111" stroke-width="0.9"/>
<line x1="192.85" y1="405.6" x2="192.85" y2="407.6" stroke="#111" stroke-width="0.9"/>
<line x1="193.73" y1="405.6" x2="193.73" y2="407.6" stroke="#111" stroke-width="0.9"/>
<line x1="194.5" y1="405.6" x2="194.5" y2="407.6" stroke="#111" stroke-width="0.9"/>
<line x1="195.2" y1="405.6" x2="195.2" y2="408.4" stroke="#111" stroke-width="0.9"/>
<line x1="199.78" y1="405.6" x2="199.78" y2="407.6" stroke="#111" stroke-width="0.9"/>
<line x1="202.45" y1="405.6" x2="202.45" y2="407.6" stroke="#111" stroke-width="0.9"/>
<line x1="204.35" y1="405.6" x2="204.35" y2="407.6" stroke="#111" stroke-width="0.9"/>
<line x1="205.82" y1="405.6" x2="205.82" y2="407.6" stroke="#111" stroke-width="0.9"/>
<line x1="207.03" y1="405.6" x2="207.03" y2="407.6" stroke="#111" stroke-width="0.9"/>
<line x1="208.05" y1="405.6" x2="208.05" y2="407.6" stroke="#111" stroke-width="0.9"/>
<line x1="208.93" y1="405.6" x2="208.93" y2="407.6" stroke="#111" stroke-width="0.9"/>
<line x1="209.7" y1="405.6" x2="209.7" y2="407.6" stroke="#111" stroke-width="0.9"/>
<line x1="210.4" y1="405.6" x2="210.4" y2="408.4" stroke="#111" stroke-width="0.9"/>
<line x1="214.98" y1="405.6" x2="214.98" y2="407.6" stroke="#111" stroke-width="0.9"/>
<line x1="191.1" y1="345.7" x2="199.1" y2="345.7" stroke="#6aaa40" stroke-width="1.2"/>
<line x1="191.1" y1="352.2" x2="199.1" y2="352.2" stroke="#b31a45" stroke-width="1.2"/>
<text x="201.6" y="348" font-size="6" text-anchor="start">WT</text>
<text x="201.6" y="355" font-size="6" text-anchor="start">BTZ</text>
<polygon points="247.58,404.53 248.33,405.01 249.08,404.37 249.83,405.01 250.58,404.31 251.33,405.01 252.08,405.01 252.83,405.01 253.58,404.18 254.33,404.13 255.08,404.5 255.83,405.01 256.58,405.01 257.33,404.49 258.08,405.01 258.83,405.01 259.58,404.42 260.33,404.38 261.08,405.01 261.83,404.05 262.58,403.86 263.33,403.74 264.08,403.32 264.83,402.98 265.58,402.62 266.33,401.88 267.08,401.59 267.83,400.53 268.58,399.64 269.33,398.7 270.08,396.72 270.83,394.59 271.58,386.73 272.33,376.02 273.08,367.89 273.83,355.98 274.58,345.88 275.33,344.13 276.08,351.43 276.83,356.99 277.58,359.37 278.33,361.53 279.08,363.13 279.83,366.97 280.58,370.81 281.33,374.83 282.08,379.14 282.83,381 283.58,384.05 284.33,389.09 285.08,396.06 285.83,403.18 286.24,405.01" fill="#edc5d2" stroke="none"/>
<g style="mix-blend-mode:multiply"><polygon points="247.58,404.13 248.33,404.56 249.08,404.48 249.83,404.23 250.58,405.01 251.33,404.87 252.08,404.94 252.83,405.01 253.58,405.01 254.33,404.63 255.08,405.01 255.83,404.85 256.58,405.01 257.33,405.01 258.08,405.01 258.83,403.95 259.58,403.28 260.33,401.89 261.08,399.8 261.83,397.13 262.58,393.94 263.33,390.06 264.08,384.99 264.83,379.75 265.58,373.94 266.33,368.25 267.08,361.22 267.83,354 268.58,348.67 269.33,347.43 270.08,350.95 270.83,358.04 271.58,364.84 272.33,372.42 273.08,378.64 273.83,383.07 274.58,386.56 275.33,389.39 276.08,392.42 276.83,395.57 277.58,398.25 278.33,400.56 279.08,403.14 279.83,404.19 280.05,405.01" fill="#e0eed6" stroke="none"/>
<polyline points="247.58,404.13 248.33,404.56 249.08,404.48 249.83,404.23 250.58,405.01 251.33,404.87 252.08,404.94 252.83,405.01 253.58,405.01 254.33,404.63 255.08,405.01 255.83,404.85 256.58,405.01 257.33,405.01 258.08,405.01 258.83,403.95 259.58,403.28 260.33,401.89 261.08,399.8 261.83,397.13 262.58,393.94 263.33,390.06 264.08,384.99 264.83,379.75 265.58,373.94 266.33,368.25 267.08,361.22 267.83,354 268.58,348.67 269.33,347.43 270.08,350.95 270.83,358.04 271.58,364.84 272.33,372.42 273.08,378.64 273.83,383.07 274.58,386.56 275.33,389.39 276.08,392.42 276.83,395.57 277.58,398.25 278.33,400.56 279.08,403.14 279.83,404.19 280.05,405.01" fill="none" stroke="#6aaa40" stroke-width="1.05" stroke-linejoin="round"/></g>
<polyline points="247.58,404.53 248.33,405.01 249.08,404.37 249.83,405.01 250.58,404.31 251.33,405.01 252.08,405.01 252.83,405.01 253.58,404.18 254.33,404.13 255.08,404.5 255.83,405.01 256.58,405.01 257.33,404.49 258.08,405.01 258.83,405.01 259.58,404.42 260.33,404.38 261.08,405.01 261.83,404.05 262.58,403.86 263.33,403.74 264.08,403.32 264.83,402.98 265.58,402.62 266.33,401.88 267.08,401.59 267.83,400.53 268.58,399.64 269.33,398.7 270.08,396.72 270.83,394.59 271.58,386.73 272.33,376.02 273.08,367.89 273.83,355.98 274.58,345.88 275.33,344.13 276.08,351.43 276.83,356.99 277.58,359.37 278.33,361.53 279.08,363.13 279.83,366.97 280.58,370.81 281.33,374.83 282.08,379.14 282.83,381 283.58,384.05 284.33,389.09 285.08,396.06 285.83,403.18 286.24,405.01" fill="none" stroke="#b31a45" stroke-width="1.45" stroke-linejoin="round"/>
<rect x="246.3" y="340" width="64.5" height="66.2" fill="none" stroke="#111" stroke-width="1.2"/>
<line x1="243.5" y1="343.8" x2="246.3" y2="343.8" stroke="#262626" stroke-width="1"/>
<text x="240" y="347" font-size="7.8" text-anchor="end">150</text>
<line x1="243.5" y1="364.8" x2="246.3" y2="364.8" stroke="#262626" stroke-width="1"/>
<text x="240" y="368" font-size="7.8" text-anchor="end">100</text>
<line x1="243.5" y1="385.6" x2="246.3" y2="385.6" stroke="#262626" stroke-width="1"/>
<text x="240" y="389" font-size="7.8" text-anchor="end">50</text>
<line x1="243.5" y1="406.2" x2="246.3" y2="406.2" stroke="#262626" stroke-width="1"/>
<text x="240" y="409" font-size="7.8" text-anchor="end">0</text>
<line x1="244.8" y1="348" x2="246.3" y2="348" stroke="#333" stroke-width="0.7"/>
<line x1="244.8" y1="352.2" x2="246.3" y2="352.2" stroke="#333" stroke-width="0.7"/>
<line x1="244.8" y1="356.4" x2="246.3" y2="356.4" stroke="#333" stroke-width="0.7"/>
<line x1="244.8" y1="360.6" x2="246.3" y2="360.6" stroke="#333" stroke-width="0.7"/>
<line x1="244.8" y1="368.96" x2="246.3" y2="368.96" stroke="#333" stroke-width="0.7"/>
<line x1="244.8" y1="373.12" x2="246.3" y2="373.12" stroke="#333" stroke-width="0.7"/>
<line x1="244.8" y1="377.28" x2="246.3" y2="377.28" stroke="#333" stroke-width="0.7"/>
<line x1="244.8" y1="381.44" x2="246.3" y2="381.44" stroke="#333" stroke-width="0.7"/>
<line x1="244.8" y1="389.72" x2="246.3" y2="389.72" stroke="#333" stroke-width="0.7"/>
<line x1="244.8" y1="393.84" x2="246.3" y2="393.84" stroke="#333" stroke-width="0.7"/>
<line x1="244.8" y1="397.96" x2="246.3" y2="397.96" stroke="#333" stroke-width="0.7"/>
<line x1="244.8" y1="402.08" x2="246.3" y2="402.08" stroke="#333" stroke-width="0.7"/>
<text x="281.9" y="334" font-size="9.3" text-anchor="middle">MM.1S</text>
<text x="249.9" y="419" font-size="6.8" text-anchor="middle">0</text>
<text x="262.4" y="419" font-size="6.8" text-anchor="middle">10<tspan font-size="4.6" dy="-2.6">2</tspan></text>
<text x="277.5" y="419" font-size="6.8" text-anchor="middle">10<tspan font-size="4.6" dy="-2.6">3</tspan></text>
<text x="291.7" y="419" font-size="6.8" text-anchor="middle">10<tspan font-size="4.6" dy="-2.6">4</tspan></text>
<text x="305.7" y="419" font-size="6.8" text-anchor="middle">10<tspan font-size="4.6" dy="-2.6">5</tspan></text>
<line x1="247.5" y1="406.2" x2="247.5" y2="409" stroke="#111" stroke-width="0.9"/>
<line x1="251.83" y1="406.2" x2="251.83" y2="408.2" stroke="#111" stroke-width="0.9"/>
<line x1="254.37" y1="406.2" x2="254.37" y2="408.2" stroke="#111" stroke-width="0.9"/>
<line x1="256.17" y1="406.2" x2="256.17" y2="408.2" stroke="#111" stroke-width="0.9"/>
<line x1="257.57" y1="406.2" x2="257.57" y2="408.2" stroke="#111" stroke-width="0.9"/>
<line x1="258.71" y1="406.2" x2="258.71" y2="408.2" stroke="#111" stroke-width="0.9"/>
<line x1="259.67" y1="406.2" x2="259.67" y2="408.2" stroke="#111" stroke-width="0.9"/>
<line x1="260.5" y1="406.2" x2="260.5" y2="408.2" stroke="#111" stroke-width="0.9"/>
<line x1="261.24" y1="406.2" x2="261.24" y2="408.2" stroke="#111" stroke-width="0.9"/>
<line x1="261.9" y1="406.2" x2="261.9" y2="409" stroke="#111" stroke-width="0.9"/>
<line x1="266.23" y1="406.2" x2="266.23" y2="408.2" stroke="#111" stroke-width="0.9"/>
<line x1="268.77" y1="406.2" x2="268.77" y2="408.2" stroke="#111" stroke-width="0.9"/>
<line x1="270.57" y1="406.2" x2="270.57" y2="408.2" stroke="#111" stroke-width="0.9"/>
<line x1="271.97" y1="406.2" x2="271.97" y2="408.2" stroke="#111" stroke-width="0.9"/>
<line x1="273.11" y1="406.2" x2="273.11" y2="408.2" stroke="#111" stroke-width="0.9"/>
<line x1="274.07" y1="406.2" x2="274.07" y2="408.2" stroke="#111" stroke-width="0.9"/>
<line x1="274.9" y1="406.2" x2="274.9" y2="408.2" stroke="#111" stroke-width="0.9"/>
<line x1="275.64" y1="406.2" x2="275.64" y2="408.2" stroke="#111" stroke-width="0.9"/>
<line x1="276.3" y1="406.2" x2="276.3" y2="409" stroke="#111" stroke-width="0.9"/>
<line x1="280.63" y1="406.2" x2="280.63" y2="408.2" stroke="#111" stroke-width="0.9"/>
<line x1="283.17" y1="406.2" x2="283.17" y2="408.2" stroke="#111" stroke-width="0.9"/>
<line x1="284.97" y1="406.2" x2="284.97" y2="408.2" stroke="#111" stroke-width="0.9"/>
<line x1="286.37" y1="406.2" x2="286.37" y2="408.2" stroke="#111" stroke-width="0.9"/>
<line x1="287.51" y1="406.2" x2="287.51" y2="408.2" stroke="#111" stroke-width="0.9"/>
<line x1="288.47" y1="406.2" x2="288.47" y2="408.2" stroke="#111" stroke-width="0.9"/>
<line x1="289.3" y1="406.2" x2="289.3" y2="408.2" stroke="#111" stroke-width="0.9"/>
<line x1="290.04" y1="406.2" x2="290.04" y2="408.2" stroke="#111" stroke-width="0.9"/>
<line x1="290.7" y1="406.2" x2="290.7" y2="409" stroke="#111" stroke-width="0.9"/>
<line x1="295.03" y1="406.2" x2="295.03" y2="408.2" stroke="#111" stroke-width="0.9"/>
<line x1="297.57" y1="406.2" x2="297.57" y2="408.2" stroke="#111" stroke-width="0.9"/>
<line x1="299.37" y1="406.2" x2="299.37" y2="408.2" stroke="#111" stroke-width="0.9"/>
<line x1="300.77" y1="406.2" x2="300.77" y2="408.2" stroke="#111" stroke-width="0.9"/>
<line x1="301.91" y1="406.2" x2="301.91" y2="408.2" stroke="#111" stroke-width="0.9"/>
<line x1="302.87" y1="406.2" x2="302.87" y2="408.2" stroke="#111" stroke-width="0.9"/>
<line x1="303.7" y1="406.2" x2="303.7" y2="408.2" stroke="#111" stroke-width="0.9"/>
<line x1="304.44" y1="406.2" x2="304.44" y2="408.2" stroke="#111" stroke-width="0.9"/>
<line x1="305.1" y1="406.2" x2="305.1" y2="409" stroke="#111" stroke-width="0.9"/>
<line x1="309.43" y1="406.2" x2="309.43" y2="408.2" stroke="#111" stroke-width="0.9"/>
<line x1="285.3" y1="345.7" x2="293.3" y2="345.7" stroke="#6aaa40" stroke-width="1.2"/>
<line x1="285.3" y1="352.2" x2="293.3" y2="352.2" stroke="#b31a45" stroke-width="1.2"/>
<text x="295.8" y="348" font-size="6" text-anchor="start">WT</text>
<text x="295.8" y="355" font-size="6" text-anchor="start">BTZ</text>
<line x1="25.8" y1="423.7" x2="25.8" y2="381" stroke="#222" stroke-width="1.3"/>
<polygon points="25.8,377.2 23.4,383 28.2,383" fill="#222"/>
<line x1="25.8" y1="423.7" x2="84" y2="423.7" stroke="#222" stroke-width="1.3"/>
<polygon points="88,423.7 82.2,421.3 82.2,426.1" fill="#222"/>
<text transform="translate(19.28,398) rotate(-90)" x="0" y="0" font-size="7.98" font-weight="bold" text-anchor="middle" textLength="16" lengthAdjust="spacingAndGlyphs">Count</text>
<text x="56.9" y="435" font-size="8.2" text-anchor="middle" font-weight="bold" textLength="17.2" lengthAdjust="spacingAndGlyphs">ITGB3</text>
<text x="404.3" y="338" font-size="9.3" text-anchor="middle">% ITGB3</text>
<line x1="356.25" y1="343.75" x2="356.25" y2="406.75" stroke="#262626" stroke-width="1.5"/>
<line x1="353.65" y1="347" x2="356.25" y2="347" stroke="#262626" stroke-width="1"/>
<text x="349.05" y="350" font-size="7.4" text-anchor="end">120</text>
<line x1="353.65" y1="366.75" x2="356.25" y2="366.75" stroke="#262626" stroke-width="1"/>
<text x="349.05" y="370" font-size="7.4" text-anchor="end">80</text>
<line x1="353.65" y1="386.5" x2="356.25" y2="386.5" stroke="#262626" stroke-width="1"/>
<text x="349.05" y="390" font-size="7.4" text-anchor="end">40</text>
<line x1="353.65" y1="406.25" x2="356.25" y2="406.25" stroke="#262626" stroke-width="1"/>
<text x="349.05" y="409" font-size="7.4" text-anchor="end">0</text>
<line x1="353.5" y1="406.25" x2="452.5" y2="406.25" stroke="#262626" stroke-width="1.2"/>
<line x1="356.25" y1="406.25" x2="356.25" y2="408.65" stroke="#262626" stroke-width="1"/>
<line x1="372" y1="406.25" x2="372" y2="408.65" stroke="#262626" stroke-width="1"/>
<line x1="387.5" y1="406.25" x2="387.5" y2="408.65" stroke="#262626" stroke-width="1"/>
<line x1="403.2" y1="406.25" x2="403.2" y2="408.65" stroke="#262626" stroke-width="1"/>
<line x1="418.8" y1="406.25" x2="418.8" y2="408.65" stroke="#262626" stroke-width="1"/>
<line x1="434.3" y1="406.25" x2="434.3" y2="408.65" stroke="#262626" stroke-width="1"/>
<line x1="450" y1="406.25" x2="450" y2="408.65" stroke="#262626" stroke-width="1"/>
<rect x="359.5" y="389.5" width="9.25" height="16.75" fill="#6aa644"/>
<line x1="364.12" y1="390" x2="364.12" y2="388.6" stroke="#111" stroke-width="1.2"/>
<line x1="361.93" y1="389.1" x2="366.32" y2="389.1" stroke="#111" stroke-width="1.3"/>
<rect x="375" y="372.5" width="9.25" height="33.75" fill="#a3002b"/>
<line x1="379.62" y1="373" x2="379.62" y2="370.75" stroke="#111" stroke-width="1.2"/>
<line x1="377.43" y1="371.25" x2="381.82" y2="371.25" stroke="#111" stroke-width="1.3"/>
<circle cx="379.62" cy="366.55" r="1.1" fill="#111"/>
<rect x="390.5" y="386.25" width="9" height="20" fill="#6aa644"/>
<line x1="395" y1="386.75" x2="395" y2="385.2" stroke="#111" stroke-width="1.2"/>
<line x1="392.8" y1="385.7" x2="397.2" y2="385.7" stroke="#111" stroke-width="1.3"/>
<rect x="406.25" y="367" width="9.25" height="39.25" fill="#a3002b"/>
<line x1="410.88" y1="367.5" x2="410.88" y2="365" stroke="#111" stroke-width="1.2"/>
<line x1="408.68" y1="365.5" x2="413.07" y2="365.5" stroke="#111" stroke-width="1.3"/>
<circle cx="409.07" cy="361.55" r="1.1" fill="#111"/>
<circle cx="412.68" cy="361.55" r="1.1" fill="#111"/>
<rect x="422" y="383.25" width="8.75" height="23" fill="#6aa644"/>
<line x1="426.38" y1="383.75" x2="426.38" y2="382.5" stroke="#111" stroke-width="1.2"/>
<line x1="424.18" y1="383" x2="428.57" y2="383" stroke="#111" stroke-width="1.3"/>
<rect x="437" y="363.75" width="9.25" height="42.5" fill="#a3002b"/>
<line x1="441.62" y1="364.25" x2="441.62" y2="362.5" stroke="#111" stroke-width="1.2"/>
<line x1="439.43" y1="363" x2="443.82" y2="363" stroke="#111" stroke-width="1.3"/>
<circle cx="439.82" cy="357.8" r="1.1" fill="#111"/>
<circle cx="443.43" cy="357.8" r="1.1" fill="#111"/>
<text transform="translate(368.5,415) rotate(-45)" x="0" y="0" font-size="7.1" text-anchor="end">-BTZ</text>
<text transform="translate(384,415) rotate(-45)" x="0" y="0" font-size="7.1" text-anchor="end">+BTZ</text>
<text transform="translate(400,415) rotate(-45)" x="0" y="0" font-size="7.1" text-anchor="end">-BTZ</text>
<text transform="translate(415.5,415) rotate(-45)" x="0" y="0" font-size="7.1" text-anchor="end">+BTZ</text>
<text transform="translate(431.2,415) rotate(-45)" x="0" y="0" font-size="7.1" text-anchor="end">-BTZ</text>
<text transform="translate(446.8,415) rotate(-45)" x="0" y="0" font-size="7.1" text-anchor="end">+BTZ</text>
<line x1="357" y1="433" x2="385.5" y2="433" stroke="#262626" stroke-width="1.1"/>
<line x1="389.5" y1="433" x2="417.5" y2="433" stroke="#262626" stroke-width="1.1"/>
<line x1="421.2" y1="433" x2="451.2" y2="433" stroke="#262626" stroke-width="1.1"/>
<text x="371.25" y="443" font-size="7" text-anchor="middle">RPMI</text>
<text x="403.75" y="443" font-size="7" text-anchor="middle">U-266</text>
<text x="436.25" y="443" font-size="7" text-anchor="middle">MM.1S</text>
<text transform="translate(81.75,469.73) scale(1,1.1)" x="0" y="0" font-size="9.3" text-anchor="middle">RPMI</text>
<text x="81.5" y="483.4" font-size="9.6" text-anchor="middle" fill="#3d5398" style="stroke:#3d5398" textLength="62.4" lengthAdjust="spacingAndGlyphs">Adhesion assay</text>
<line x1="49.5" y1="488.7" x2="49.5" y2="556.5" stroke="#262626" stroke-width="1.5"/>
<line x1="46.9" y1="491.9" x2="49.5" y2="491.9" stroke="#262626" stroke-width="1"/>
<text x="43" y="495" font-size="6.8" text-anchor="end">1.8</text>
<line x1="46.9" y1="513.3" x2="49.5" y2="513.3" stroke="#262626" stroke-width="1"/>
<text x="43" y="516" font-size="6.8" text-anchor="end">1.2</text>
<line x1="46.9" y1="534.8" x2="49.5" y2="534.8" stroke="#262626" stroke-width="1"/>
<text x="43" y="538" font-size="6.8" text-anchor="end">0.6</text>
<line x1="46.9" y1="556" x2="49.5" y2="556" stroke="#262626" stroke-width="1"/>
<text x="43" y="559" font-size="6.8" text-anchor="end">0</text>
<line x1="46.8" y1="556" x2="113.3" y2="556" stroke="#262626" stroke-width="1.2"/>
<line x1="49.5" y1="556" x2="49.5" y2="558.4" stroke="#262626" stroke-width="1"/>
<line x1="59.4" y1="556" x2="59.4" y2="558.4" stroke="#262626" stroke-width="1"/>
<line x1="69.6" y1="556" x2="69.6" y2="558.4" stroke="#262626" stroke-width="1"/>
<line x1="79.6" y1="556" x2="79.6" y2="558.4" stroke="#262626" stroke-width="1"/>
<line x1="89.6" y1="556" x2="89.6" y2="558.4" stroke="#262626" stroke-width="1"/>
<line x1="99.8" y1="556" x2="99.8" y2="558.4" stroke="#262626" stroke-width="1"/>
<line x1="110.4" y1="556" x2="110.4" y2="558.4" stroke="#262626" stroke-width="1"/>
<rect x="51.2" y="546.3" width="6.3" height="9.7" fill="#8c84b9"/>
<line x1="54.35" y1="546.8" x2="54.35" y2="545.5" stroke="#222" stroke-width="1.2"/>
<line x1="52.84" y1="546" x2="55.86" y2="546" stroke="#111" stroke-width="1.3"/>
<rect x="61.3" y="520" width="6.4" height="36" fill="#8c84b9"/>
<line x1="64.5" y1="520.5" x2="64.5" y2="516.2" stroke="#222" stroke-width="1.2"/>
<line x1="62.96" y1="516.7" x2="66.04" y2="516.7" stroke="#111" stroke-width="1.3"/>
<circle cx="62.7" cy="511.5" r="1.1" fill="#111"/>
<circle cx="66.3" cy="511.5" r="1.1" fill="#111"/>
<rect x="71.3" y="549.8" width="6.4" height="6.2" fill="#8c84b9"/>
<line x1="74.5" y1="550.3" x2="74.5" y2="548.3" stroke="#222" stroke-width="1.2"/>
<line x1="72.96" y1="548.8" x2="76.04" y2="548.8" stroke="#111" stroke-width="1.3"/>
<circle cx="74.5" cy="543.8" r="1.1" fill="#111"/>
<rect x="81.5" y="537.7" width="6.4" height="18.3" fill="#8c84b9"/>
<line x1="84.7" y1="538.2" x2="84.7" y2="537" stroke="#222" stroke-width="1.2"/>
<line x1="83.16" y1="537.5" x2="86.24" y2="537.5" stroke="#111" stroke-width="1.3"/>
<circle cx="84.7" cy="532.6" r="1.1" fill="#111"/>
<rect x="91.7" y="502.7" width="6.8" height="53.3" fill="#8c84b9"/>
<line x1="95.1" y1="503.2" x2="95.1" y2="497.3" stroke="#222" stroke-width="1.2"/>
<line x1="93.47" y1="497.8" x2="96.73" y2="497.8" stroke="#111" stroke-width="1.3"/>
<circle cx="91.5" cy="493.3" r="1.1" fill="#111"/>
<circle cx="95.1" cy="493.3" r="1.1" fill="#111"/>
<circle cx="98.7" cy="493.3" r="1.1" fill="#111"/>
<rect x="101.7" y="541.9" width="6.8" height="14.1" fill="#8c84b9"/>
<line x1="105.1" y1="542.4" x2="105.1" y2="539.6" stroke="#222" stroke-width="1.2"/>
<line x1="103.47" y1="540.1" x2="106.73" y2="540.1" stroke="#111" stroke-width="1.3"/>
<circle cx="103.3" cy="536.1" r="1.1" fill="#111"/>
<circle cx="106.9" cy="536.1" r="1.1" fill="#111"/>
<text transform="translate(27.32,522.8) rotate(-90)" x="0" y="0" font-size="8.82" font-weight="bold" text-anchor="middle" textLength="31.7" lengthAdjust="spacingAndGlyphs">Abs 550nm</text>
<text transform="translate(57.5,567.2) rotate(-45)" x="0" y="0" font-size="7.1" text-anchor="end">Mock</text>
<text transform="translate(67.9,567.2) rotate(-45)" x="0" y="0" font-size="7.1" text-anchor="end">EGFL7 OE</text>
<text transform="translate(77.9,567.2) rotate(-45)" x="0" y="0" font-size="7.1" text-anchor="end">EGFL7 KD</text>
<text transform="translate(88.2,567.2) rotate(-45)" x="0" y="0" font-size="7.1" text-anchor="end">Mock+BTZ</text>
<text transform="translate(98.7,567.2) rotate(-45)" x="0" y="0" font-size="7.1" text-anchor="end">EGFL7 OE+BTZ</text>
<text transform="translate(108.7,567.2) rotate(-45)" x="0" y="0" font-size="7.1" text-anchor="end">EGFL7 KD+BTZ</text>
<line x1="177.3" y1="487.3" x2="177.3" y2="556.4" stroke="#262626" stroke-width="1.5"/>
<line x1="174.7" y1="489.7" x2="177.3" y2="489.7" stroke="#262626" stroke-width="1"/>
<text x="170.8" y="493" font-size="7.6" text-anchor="end">6000</text>
<line x1="174.7" y1="512" x2="177.3" y2="512" stroke="#262626" stroke-width="1"/>
<text x="170.8" y="515" font-size="7.6" text-anchor="end">4000</text>
<line x1="174.7" y1="534" x2="177.3" y2="534" stroke="#262626" stroke-width="1"/>
<text x="170.8" y="537" font-size="7.6" text-anchor="end">2000</text>
<line x1="174.7" y1="555.9" x2="177.3" y2="555.9" stroke="#262626" stroke-width="1"/>
<text x="170.8" y="559" font-size="7.6" text-anchor="end">0</text>
<line x1="174.6" y1="555.9" x2="228.2" y2="555.9" stroke="#262626" stroke-width="1.2"/>
<line x1="177.3" y1="555.9" x2="177.3" y2="558.3" stroke="#262626" stroke-width="1"/>
<line x1="192.7" y1="555.9" x2="192.7" y2="558.3" stroke="#262626" stroke-width="1"/>
<line x1="209" y1="555.9" x2="209" y2="558.3" stroke="#262626" stroke-width="1"/>
<line x1="225.4" y1="555.9" x2="225.4" y2="558.3" stroke="#262626" stroke-width="1"/>
<rect x="180.1" y="546.9" width="9.8" height="9" fill="#6aa644"/>
<line x1="185" y1="547.4" x2="185" y2="544.9" stroke="#666" stroke-width="1.2"/>
<line x1="182.65" y1="545.4" x2="187.35" y2="545.4" stroke="#111" stroke-width="1.3"/>
<rect x="196" y="507.2" width="9.8" height="48.7" fill="#a3002b"/>
<line x1="200.9" y1="507.7" x2="200.9" y2="497" stroke="#666" stroke-width="1.2"/>
<line x1="198.55" y1="497.5" x2="203.25" y2="497.5" stroke="#111" stroke-width="1.3"/>
<circle cx="199.2" cy="492.7" r="1.1" fill="#111"/>
<circle cx="202.6" cy="492.7" r="1.1" fill="#111"/>
<rect x="212.3" y="552.3" width="9.4" height="3.6" fill="#2f4a7c"/>
<line x1="217" y1="552.8" x2="217" y2="550.2" stroke="#666" stroke-width="1.2"/>
<line x1="214.74" y1="550.7" x2="219.26" y2="550.7" stroke="#111" stroke-width="1.3"/>
<text transform="translate(147.86,521) rotate(-90)" x="0" y="0" font-size="8.61" font-weight="normal" text-anchor="middle" textLength="45.6" lengthAdjust="spacingAndGlyphs">Abs. GFP+ cells</text>
<text transform="translate(187.9,565.5) rotate(-45)" x="0" y="0" font-size="7.1" text-anchor="end">Mock</text>
<text transform="translate(204.9,565.5) rotate(-45)" x="0" y="0" font-size="7.1" text-anchor="end">EGFL7 OE</text>
<text transform="translate(221,565.5) rotate(-45)" x="0" y="0" font-size="7.1" text-anchor="end">EGFL7 KD</text>
<line x1="174.2" y1="594.5" x2="224.8" y2="594.5" stroke="#262626" stroke-width="1.1"/>
<text x="199.8" y="604" font-size="7" text-anchor="middle" textLength="59.6" lengthAdjust="spacingAndGlyphs">BMEC1 transfected</text>
<text x="200" y="612.3" font-size="7" text-anchor="middle">cells</text>
<text transform="translate(310.1,480.13) scale(1,1.1)" x="0" y="0" font-size="9.3" text-anchor="middle">RPMI</text>
<line x1="284" y1="486.5" x2="284" y2="556.3" stroke="#262626" stroke-width="1.5"/>
<line x1="281.4" y1="488.8" x2="284" y2="488.8" stroke="#262626" stroke-width="1"/>
<text x="277.4" y="492" font-size="7.5" text-anchor="end">9</text>
<line x1="281.4" y1="511.4" x2="284" y2="511.4" stroke="#262626" stroke-width="1"/>
<text x="277.4" y="515" font-size="7.5" text-anchor="end">6</text>
<line x1="281.4" y1="533.5" x2="284" y2="533.5" stroke="#262626" stroke-width="1"/>
<text x="277.4" y="537" font-size="7.5" text-anchor="end">3</text>
<line x1="281.4" y1="555.8" x2="284" y2="555.8" stroke="#262626" stroke-width="1"/>
<text x="277.4" y="559" font-size="7.5" text-anchor="end">0</text>
<line x1="281.3" y1="555.8" x2="335.2" y2="555.8" stroke="#262626" stroke-width="1.2"/>
<line x1="284" y1="555.8" x2="284" y2="558.2" stroke="#262626" stroke-width="1"/>
<line x1="295.8" y1="555.8" x2="295.8" y2="558.2" stroke="#262626" stroke-width="1"/>
<line x1="308.4" y1="555.8" x2="308.4" y2="558.2" stroke="#262626" stroke-width="1"/>
<line x1="320.9" y1="555.8" x2="320.9" y2="558.2" stroke="#262626" stroke-width="1"/>
<line x1="332.9" y1="555.8" x2="332.9" y2="558.2" stroke="#262626" stroke-width="1"/>
<rect x="286.4" y="505.4" width="7.2" height="50.4" fill="#6aa644"/>
<line x1="290" y1="505.9" x2="290" y2="503.3" stroke="#111" stroke-width="1.2"/>
<line x1="288.27" y1="503.8" x2="291.73" y2="503.8" stroke="#111" stroke-width="1.3"/>
<line x1="290" y1="505.4" x2="290" y2="507.5" stroke="#111" stroke-width="1.2"/>
<line x1="288.27" y1="507.2" x2="291.73" y2="507.2" stroke="#111" stroke-width="1.3"/>
<rect x="298.5" y="519.2" width="7.2" height="36.6" fill="#6aa644"/>
<line x1="302.1" y1="519.7" x2="302.1" y2="517.6" stroke="#111" stroke-width="1.2"/>
<line x1="300.37" y1="518.1" x2="303.83" y2="518.1" stroke="#111" stroke-width="1.3"/>
<line x1="302.1" y1="519.2" x2="302.1" y2="520.8" stroke="#111" stroke-width="1.2"/>
<line x1="300.37" y1="520.5" x2="303.83" y2="520.5" stroke="#111" stroke-width="1.3"/>
<circle cx="302.1" cy="513.3" r="1.1" fill="#111"/>
<rect x="310.7" y="507.8" width="7" height="48" fill="#6aa644"/>
<line x1="314.2" y1="508.3" x2="314.2" y2="506.5" stroke="#111" stroke-width="1.2"/>
<line x1="312.52" y1="507" x2="315.88" y2="507" stroke="#111" stroke-width="1.3"/>
<line x1="314.2" y1="507.8" x2="314.2" y2="509.1" stroke="#111" stroke-width="1.2"/>
<line x1="312.52" y1="508.8" x2="315.88" y2="508.8" stroke="#111" stroke-width="1.3"/>
<rect x="322.9" y="524.4" width="7.1" height="31.4" fill="#6aa644"/>
<line x1="326.45" y1="524.9" x2="326.45" y2="519.9" stroke="#111" stroke-width="1.2"/>
<line x1="324.75" y1="520.4" x2="328.15" y2="520.4" stroke="#111" stroke-width="1.3"/>
<line x1="326.45" y1="524.4" x2="326.45" y2="528.9" stroke="#111" stroke-width="1.2"/>
<line x1="324.75" y1="528.6" x2="328.15" y2="528.6" stroke="#111" stroke-width="1.3"/>
<circle cx="326.45" cy="515.9" r="1.1" fill="#111"/>
<text transform="translate(266.88,520.7) rotate(-90)" x="0" y="0" font-size="9.03" font-weight="normal" text-anchor="middle" textLength="42.1" lengthAdjust="spacingAndGlyphs">Cell no.*10 ^ 4</text>
<text transform="translate(293.5,565.9) rotate(-45)" x="0" y="0" font-size="7.1" text-anchor="end">Unt</text>
<text transform="translate(305.2,565.9) rotate(-45)" x="0" y="0" font-size="7.1" text-anchor="end">BTZ</text>
<text transform="translate(317.7,565.9) rotate(-45)" x="0" y="0" font-size="7.1" text-anchor="end">Celin</text>
<text transform="translate(329.7,565.9) rotate(-45)" x="0" y="0" font-size="7.1" text-anchor="end">Celin+BTZ</text>
<text transform="translate(425.9,480.53) scale(1,1.1)" x="0" y="0" font-size="9.3" text-anchor="middle">RPMI</text>
<line x1="392.8" y1="485.9" x2="392.8" y2="556.2" stroke="#262626" stroke-width="1.5"/>
<line x1="390.2" y1="489" x2="392.8" y2="489" stroke="#262626" stroke-width="1"/>
<text x="386.3" y="492" font-size="6.8" text-anchor="end">4.5</text>
<line x1="390.2" y1="511.3" x2="392.8" y2="511.3" stroke="#262626" stroke-width="1"/>
<text x="386.3" y="514" font-size="6.8" text-anchor="end">3</text>
<line x1="390.2" y1="533.5" x2="392.8" y2="533.5" stroke="#262626" stroke-width="1"/>
<text x="386.3" y="536" font-size="6.8" text-anchor="end">1.5</text>
<line x1="390.2" y1="555.7" x2="392.8" y2="555.7" stroke="#262626" stroke-width="1"/>
<text x="386.3" y="559" font-size="6.8" text-anchor="end">0</text>
<line x1="390.1" y1="555.7" x2="459" y2="555.7" stroke="#262626" stroke-width="1.2"/>
<line x1="392.8" y1="555.7" x2="392.8" y2="558.1" stroke="#262626" stroke-width="1"/>
<line x1="403.4" y1="555.7" x2="403.4" y2="558.1" stroke="#262626" stroke-width="1"/>
<line x1="413.7" y1="555.7" x2="413.7" y2="558.1" stroke="#262626" stroke-width="1"/>
<line x1="424.3" y1="555.7" x2="424.3" y2="558.1" stroke="#262626" stroke-width="1"/>
<line x1="434.9" y1="555.7" x2="434.9" y2="558.1" stroke="#262626" stroke-width="1"/>
<line x1="445.4" y1="555.7" x2="445.4" y2="558.1" stroke="#262626" stroke-width="1"/>
<line x1="456.2" y1="555.7" x2="456.2" y2="558.1" stroke="#262626" stroke-width="1"/>
<rect x="394.9" y="515.1" width="6.8" height="40.6" fill="#6aa644"/>
<line x1="398.3" y1="515.6" x2="398.3" y2="511.3" stroke="#222" stroke-width="1.2"/>
<line x1="396.67" y1="511.8" x2="399.93" y2="511.8" stroke="#111" stroke-width="1.3"/>
<rect x="405.1" y="499.2" width="6.7" height="56.5" fill="#a3002b"/>
<line x1="408.45" y1="499.7" x2="408.45" y2="496.4" stroke="#222" stroke-width="1.2"/>
<line x1="406.84" y1="496.9" x2="410.06" y2="496.9" stroke="#111" stroke-width="1.3"/>
<circle cx="406.85" cy="493.6" r="1.1" fill="#111"/>
<circle cx="410.05" cy="493.6" r="1.1" fill="#111"/>
<rect x="415.6" y="518.2" width="6.8" height="37.5" fill="#2f4a7c"/>
<line x1="419" y1="518.7" x2="419" y2="513.4" stroke="#222" stroke-width="1.2"/>
<line x1="417.37" y1="513.9" x2="420.63" y2="513.9" stroke="#111" stroke-width="1.3"/>
<rect x="426.2" y="540.9" width="6.8" height="14.8" fill="#6aa644"/>
<line x1="429.6" y1="541.4" x2="429.6" y2="537.3" stroke="#222" stroke-width="1.2"/>
<line x1="427.97" y1="537.8" x2="431.23" y2="537.8" stroke="#111" stroke-width="1.3"/>
<circle cx="429.6" cy="533.8" r="1.1" fill="#111"/>
<rect x="436.8" y="523.5" width="6.8" height="32.2" fill="#a3002b"/>
<line x1="440.2" y1="524" x2="440.2" y2="521.4" stroke="#222" stroke-width="1.2"/>
<line x1="438.57" y1="521.9" x2="441.83" y2="521.9" stroke="#111" stroke-width="1.3"/>
<rect x="447.2" y="537.3" width="6.9" height="18.4" fill="#2f4a7c"/>
<line x1="450.65" y1="537.8" x2="450.65" y2="534.1" stroke="#222" stroke-width="1.2"/>
<line x1="448.99" y1="534.6" x2="452.31" y2="534.6" stroke="#111" stroke-width="1.3"/>
<circle cx="450.65" cy="531.6" r="1.1" fill="#111"/>
<text transform="translate(370.6,520.7) rotate(-90)" x="0" y="0" font-size="9.03" font-weight="normal" text-anchor="middle" textLength="42.3" lengthAdjust="spacingAndGlyphs">Cell no.*10 ^ 5</text>
<text transform="translate(401.6,564.5) rotate(-45)" x="0" y="0" font-size="7.1" text-anchor="end">Mock</text>
<text transform="translate(412.1,564.5) rotate(-45)" x="0" y="0" font-size="7.1" text-anchor="end">ITGB3 OE</text>
<text transform="translate(422.1,564.5) rotate(-45)" x="0" y="0" font-size="7.1" text-anchor="end">ITGB3 KD</text>
<text transform="translate(433.3,564.5) rotate(-45)" x="0" y="0" font-size="7.1" text-anchor="end">Mock</text>
<text transform="translate(443.9,564.5) rotate(-45)" x="0" y="0" font-size="7.1" text-anchor="end">ITGB3 OE</text>
<text transform="translate(453.8,564.5) rotate(-45)" x="0" y="0" font-size="7.1" text-anchor="end">ITGB3 KD</text>
<line x1="386.4" y1="592.8" x2="414.6" y2="592.8" stroke="#262626" stroke-width="1.1"/>
<line x1="423" y1="592.8" x2="452" y2="592.8" stroke="#262626" stroke-width="1.1"/>
<text x="400.6" y="603" font-size="7" text-anchor="middle">-BTZ</text>
<text x="437.6" y="603" font-size="7" text-anchor="middle">+BTZ</text>
</g>
</svg>
</body></html>
